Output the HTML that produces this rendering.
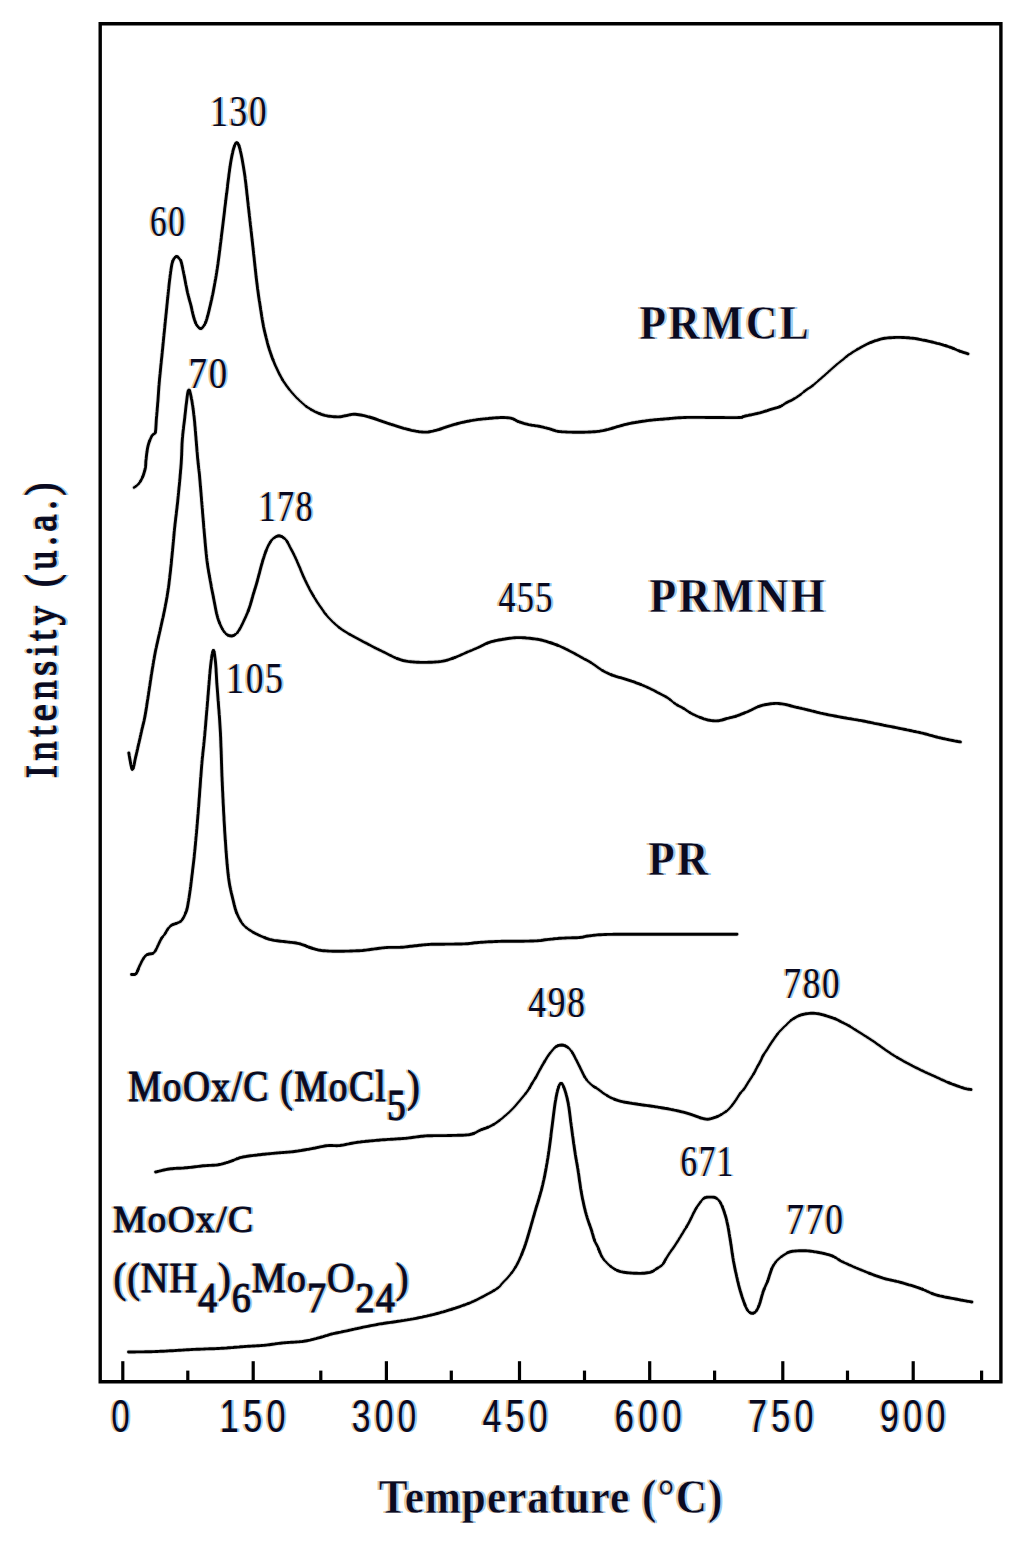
<!DOCTYPE html>
<html><head><meta charset="utf-8"><title>TPR chart</title>
<style>html,body{margin:0;padding:0;background:#fff;}svg{display:block;}</style></head>
<body><svg width="1024" height="1543" viewBox="0 0 1024 1543">
<path d="M100.2,23.8 H1000.9 V1381.8 H100.2 Z" fill="none" stroke="#000" stroke-width="3.4"/>
<line x1="122.8" y1="1361.2" x2="122.8" y2="1381.8" stroke="#000" stroke-width="3.2"/>
<line x1="253.2" y1="1361.2" x2="253.2" y2="1381.8" stroke="#000" stroke-width="3.2"/>
<line x1="386.4" y1="1361.2" x2="386.4" y2="1381.8" stroke="#000" stroke-width="3.2"/>
<line x1="519.5" y1="1361.2" x2="519.5" y2="1381.8" stroke="#000" stroke-width="3.2"/>
<line x1="649.7" y1="1361.2" x2="649.7" y2="1381.8" stroke="#000" stroke-width="3.2"/>
<line x1="782.8" y1="1361.2" x2="782.8" y2="1381.8" stroke="#000" stroke-width="3.2"/>
<line x1="913.2" y1="1361.2" x2="913.2" y2="1381.8" stroke="#000" stroke-width="3.2"/>
<line x1="187.8" y1="1370.6" x2="187.8" y2="1381.8" stroke="#000" stroke-width="3.2"/>
<line x1="320.8" y1="1370.6" x2="320.8" y2="1381.8" stroke="#000" stroke-width="3.2"/>
<line x1="451.3" y1="1370.6" x2="451.3" y2="1381.8" stroke="#000" stroke-width="3.2"/>
<line x1="584.5" y1="1370.6" x2="584.5" y2="1381.8" stroke="#000" stroke-width="3.2"/>
<line x1="714.6" y1="1370.6" x2="714.6" y2="1381.8" stroke="#000" stroke-width="3.2"/>
<line x1="847.5" y1="1370.6" x2="847.5" y2="1381.8" stroke="#000" stroke-width="3.2"/>
<line x1="981.6" y1="1370.6" x2="981.6" y2="1381.8" stroke="#000" stroke-width="3.2"/>
<path d="M134.0,487.5 C134.8,486.9 137.4,485.4 138.8,483.6 C140.2,481.9 141.5,479.6 142.6,477.0 C143.7,474.4 144.8,470.5 145.4,467.7 C146.0,464.9 145.6,463.7 146.0,460.0 C146.4,456.3 147.1,449.7 148.1,445.6 C149.1,441.6 150.8,437.9 152.0,435.7 C153.2,433.5 154.6,435.0 155.3,432.4 C156.0,429.8 155.9,425.4 156.3,420.0 C156.8,414.6 157.5,406.5 158.0,400.0 C158.5,393.5 158.7,389.2 159.4,380.8 C160.2,372.4 161.5,360.1 162.5,349.7 C163.5,339.3 164.5,329.0 165.6,318.6 C166.7,308.2 167.9,295.4 168.8,287.5 C169.7,279.6 170.1,275.4 170.8,271.0 C171.5,266.6 171.9,263.4 172.8,261.0 C173.8,258.6 175.3,256.8 176.5,256.5 C177.7,256.2 179.2,258.4 180.0,259.5 C180.8,260.6 180.8,260.1 181.5,263.0 C182.2,265.9 183.4,272.0 184.4,276.9 C185.4,281.8 186.5,287.9 187.5,292.5 C188.5,297.1 189.5,300.0 190.6,304.2 C191.7,308.4 192.8,314.0 193.8,317.5 C194.9,321.0 195.7,323.4 196.9,325.3 C198.1,327.2 199.6,328.7 200.8,328.6 C202.0,328.6 203.3,326.7 204.3,325.0 C205.3,323.3 205.9,322.0 207.0,318.3 C208.1,314.6 209.7,307.9 210.9,302.7 C212.1,297.5 213.1,292.6 214.1,287.0 C215.1,281.4 216.2,275.9 217.2,269.0 C218.2,262.1 218.9,257.1 220.3,245.6 C221.7,234.2 224.2,213.4 225.8,200.3 C227.4,187.2 228.7,175.7 230.0,167.1 C231.3,158.5 232.4,153.1 233.5,149.0 C234.6,144.9 235.5,142.9 236.6,142.8 C237.7,142.7 238.5,143.4 239.8,148.5 C241.1,153.6 243.0,163.4 244.5,173.4 C246.0,183.4 247.2,196.5 248.6,208.6 C250.0,220.7 251.4,233.6 252.8,246.0 C254.2,258.4 255.7,273.5 256.9,283.3 C258.1,293.1 258.9,298.1 260.0,305.0 C261.1,311.9 262.2,319.3 263.2,324.8 C264.2,330.3 265.2,333.9 266.2,338.0 C267.2,342.1 268.2,345.9 269.4,349.7 C270.6,353.5 272.1,357.5 273.5,361.0 C274.9,364.5 276.3,367.6 277.7,370.5 C279.1,373.4 280.4,376.1 281.8,378.5 C283.2,380.9 284.5,382.8 286.0,385.0 C287.5,387.2 289.3,389.4 291.0,391.5 C292.7,393.6 294.1,395.1 296.3,397.4 C298.6,399.6 302.0,402.9 304.5,405.0 C307.0,407.1 309.2,408.5 311.5,409.8 C313.8,411.1 315.8,412.1 318.0,413.0 C320.2,413.9 322.5,414.7 324.7,415.3 C326.9,415.9 328.7,416.1 331.0,416.4 C333.3,416.7 336.3,417.0 338.7,416.9 C341.1,416.8 342.6,416.2 345.1,415.8 C347.6,415.4 350.8,414.4 353.7,414.3 C356.6,414.2 359.4,414.8 362.3,415.3 C365.2,415.8 368.4,416.8 370.9,417.5 C373.4,418.2 374.8,418.7 377.3,419.6 C379.8,420.5 383.0,421.7 385.9,422.7 C388.8,423.7 391.3,424.4 394.5,425.4 C397.7,426.4 401.7,427.7 405.3,428.7 C408.9,429.7 412.4,430.6 416.0,431.2 C419.6,431.8 423.1,432.3 426.7,432.1 C430.3,431.9 433.9,430.9 437.5,429.9 C441.1,428.9 444.3,427.5 448.2,426.3 C452.1,425.1 456.8,423.7 461.1,422.7 C465.4,421.7 469.7,420.8 474.0,420.1 C478.3,419.4 482.2,419.0 486.9,418.6 C491.5,418.2 497.7,417.5 501.9,417.5 C506.1,417.5 509.3,417.8 512.0,418.5 C514.7,419.2 515.5,420.5 518.2,421.5 C521.0,422.5 525.1,423.8 528.5,424.6 C531.9,425.4 535.3,425.5 538.7,426.2 C542.1,426.9 545.6,427.8 549.0,428.7 C552.4,429.6 554.4,430.9 559.2,431.5 C564.0,432.1 571.6,432.2 577.7,432.2 C583.9,432.2 591.0,432.1 596.1,431.6 C601.2,431.1 604.6,430.2 608.4,429.3 C612.2,428.4 615.3,427.2 618.7,426.3 C622.1,425.4 625.2,424.4 629.0,423.6 C632.8,422.8 637.2,422.1 641.3,421.5 C645.4,420.9 649.5,420.3 653.6,419.9 C657.7,419.5 660.8,419.3 665.9,418.9 C671.0,418.5 676.1,417.7 684.3,417.5 C692.5,417.3 705.9,417.5 715.1,417.5 C724.3,417.5 734.5,417.7 739.4,417.5 C744.2,417.3 740.8,417.1 744.2,416.3 C747.6,415.5 755.5,413.9 759.8,412.8 C764.1,411.7 766.6,410.7 770.0,409.7 C773.4,408.7 777.3,407.8 780.0,406.6 C782.7,405.5 784.1,404.0 786.2,402.8 C788.3,401.6 790.5,400.8 792.7,399.6 C794.9,398.4 797.2,396.9 799.3,395.4 C801.4,393.9 803.3,392.1 805.5,390.5 C807.7,388.9 810.3,387.4 812.5,385.7 C814.7,384.0 816.7,382.2 818.7,380.4 C820.8,378.6 822.8,376.9 824.8,375.1 C826.8,373.3 829.0,371.3 831.0,369.5 C833.0,367.7 835.4,365.7 837.1,364.2 C838.9,362.7 839.7,362.1 841.5,360.7 C843.3,359.3 845.5,357.2 847.7,355.6 C849.9,354.0 852.5,352.4 854.7,351.0 C856.9,349.6 858.6,348.6 860.8,347.4 C863.0,346.2 865.7,344.7 867.9,343.7 C870.1,342.7 871.5,342.1 874.1,341.2 C876.7,340.3 879.5,339.1 883.4,338.5 C887.3,337.9 892.6,337.4 897.5,337.4 C902.4,337.3 908.6,337.8 912.7,338.2 C916.8,338.6 919.4,339.4 922.1,339.9 C924.8,340.4 925.8,340.5 929.1,341.3 C932.4,342.1 938.2,343.5 942.0,344.6 C945.8,345.7 949.1,346.8 952.0,347.9 C954.9,349.0 956.9,350.1 959.6,351.1 C962.3,352.1 966.6,353.4 968.0,353.8" fill="none" stroke="#e2e2e2" stroke-width="4.6" stroke-linejoin="round" stroke-linecap="round"/>
<path d="M128.8,752.9 C129.4,755.6 131.1,768.7 132.3,769.3 C133.5,769.9 134.6,761.1 135.8,756.4 C137.0,751.7 138.2,745.9 139.3,741.2 C140.4,736.5 141.2,732.7 142.2,728.4 C143.2,724.1 144.0,721.4 145.1,715.6 C146.2,709.8 147.5,700.6 148.6,693.4 C149.7,686.2 150.7,679.0 151.8,672.4 C152.9,665.8 153.9,659.5 155.0,653.7 C156.1,647.9 157.4,642.3 158.5,637.4 C159.6,632.5 160.3,629.4 161.4,624.5 C162.5,619.6 163.7,614.3 164.9,608.2 C166.1,602.1 167.3,596.0 168.4,588.0 C169.5,580.0 170.6,570.1 171.6,560.0 C172.6,549.9 173.6,537.7 174.7,527.4 C175.8,517.1 176.9,509.0 178.0,498.3 C179.1,487.6 180.5,473.0 181.2,463.3 C181.9,453.6 181.7,447.4 182.3,440.0 C182.9,432.6 183.6,427.2 184.6,419.0 C185.6,410.8 187.1,394.7 188.2,391.0 C189.3,387.3 190.1,392.2 191.1,396.9 C192.1,401.5 193.2,408.8 194.3,418.9 C195.4,429.0 196.7,447.8 197.6,457.8 C198.5,467.8 198.7,466.2 199.8,478.9 C200.9,491.6 203.2,520.4 204.4,534.2 C205.6,548.0 206.1,553.5 207.1,561.5 C208.1,569.5 209.4,575.6 210.5,582.0 C211.6,588.4 212.8,594.1 213.9,599.8 C215.0,605.5 216.1,611.6 217.3,616.2 C218.6,620.8 219.9,624.2 221.4,627.2 C222.9,630.2 224.5,632.5 226.2,634.0 C227.9,635.5 230.0,636.1 231.7,636.0 C233.4,635.9 235.1,634.8 236.5,633.5 C237.9,632.2 238.9,630.4 240.0,628.5 C241.1,626.6 241.8,625.2 243.3,622.0 C244.8,618.8 247.2,613.8 248.8,609.4 C250.4,605.0 251.5,600.3 252.9,595.7 C254.3,591.1 255.4,587.7 257.0,582.0 C258.6,576.3 261.0,566.7 262.5,561.5 C264.0,556.3 264.9,554.0 266.0,551.0 C267.1,548.0 268.2,545.8 269.3,543.8 C270.4,541.8 271.1,540.3 272.7,539.0 C274.3,537.7 276.7,535.7 278.9,535.8 C281.1,535.9 283.8,537.6 285.7,539.6 C287.6,541.6 288.9,545.0 290.5,548.0 C292.1,551.0 293.8,554.2 295.3,557.4 C296.8,560.6 298.1,563.8 299.5,567.0 C300.9,570.2 302.2,573.6 303.5,576.6 C304.8,579.6 306.1,582.3 307.5,585.0 C308.9,587.7 310.2,590.3 311.7,593.0 C313.2,595.7 314.9,598.5 316.5,601.0 C318.1,603.5 319.6,605.5 321.3,608.0 C323.1,610.5 324.3,612.8 327.0,615.8 C329.7,618.8 334.1,623.3 337.6,626.2 C341.1,629.1 344.3,631.1 348.1,633.4 C351.9,635.7 356.3,637.9 360.4,640.1 C364.5,642.3 368.6,644.5 372.7,646.6 C376.8,648.7 380.9,650.7 385.0,652.7 C389.1,654.7 393.5,657.2 397.3,658.6 C401.1,660.0 403.5,660.8 407.9,661.4 C412.3,662.0 418.1,662.4 423.7,662.4 C429.3,662.4 436.3,662.1 441.3,661.4 C446.3,660.7 449.5,659.5 453.6,658.0 C457.7,656.5 461.8,654.5 465.9,652.7 C470.0,651.0 474.4,649.2 478.2,647.5 C482.0,645.8 485.0,643.9 488.7,642.6 C492.4,641.3 495.6,640.5 500.5,639.7 C505.4,638.9 511.9,637.7 518.1,637.6 C524.3,637.5 532.2,638.5 537.5,639.3 C542.8,640.1 546.0,641.3 549.8,642.5 C553.6,643.7 556.8,644.9 560.3,646.4 C563.8,647.9 567.4,649.8 570.9,651.6 C574.4,653.4 577.9,655.3 581.4,657.3 C584.9,659.2 588.5,661.1 592.0,663.3 C595.5,665.5 599.0,668.5 602.5,670.5 C606.0,672.5 609.2,674.0 613.0,675.4 C616.8,676.8 621.2,677.8 625.3,679.1 C629.4,680.4 633.9,681.9 637.7,683.3 C641.5,684.7 644.7,686.1 648.2,687.7 C651.7,689.3 655.5,691.3 658.7,693.0 C661.9,694.7 664.7,696.0 667.5,697.8 C670.3,699.6 673.0,702.2 675.6,704.0 C678.2,705.8 680.8,706.7 683.4,708.3 C686.0,709.9 688.4,711.8 691.3,713.4 C694.2,715.0 697.8,716.5 700.6,717.6 C703.4,718.7 705.4,719.5 708.0,720.0 C710.6,720.5 714.0,720.9 716.3,720.9 C718.6,720.9 720.2,720.4 722.0,720.0 C723.8,719.6 725.0,719.0 727.2,718.4 C729.4,717.8 732.4,717.3 735.0,716.5 C737.6,715.7 740.4,714.5 742.8,713.6 C745.1,712.7 747.0,711.9 749.1,711.0 C751.2,710.1 753.5,708.8 755.3,708.0 C757.1,707.2 758.2,706.6 760.0,706.0 C761.8,705.4 763.7,704.9 766.3,704.5 C768.9,704.1 772.5,703.4 775.6,703.4 C778.7,703.4 781.9,703.8 785.0,704.4 C788.1,705.0 791.3,706.0 794.4,706.8 C797.5,707.5 800.9,708.2 803.8,708.9 C806.7,709.6 808.0,710.0 811.6,710.9 C815.2,711.8 820.4,713.1 825.6,714.2 C830.8,715.3 836.8,716.4 842.8,717.5 C848.8,718.6 855.6,719.6 861.6,720.7 C867.6,721.8 873.3,723.1 878.8,724.2 C884.3,725.3 889.2,726.2 894.4,727.3 C899.6,728.3 905.0,729.5 910.0,730.5 C915.0,731.5 919.7,732.5 924.1,733.6 C928.5,734.7 932.2,735.9 936.6,737.0 C941.0,738.1 946.6,739.3 950.6,740.1 C954.6,740.9 958.8,741.6 960.4,741.9" fill="none" stroke="#e2e2e2" stroke-width="4.6" stroke-linejoin="round" stroke-linecap="round"/>
<path d="M131.5,974.5 C132.2,974.4 134.8,975.0 136.0,973.8 C137.2,972.6 137.9,969.7 138.9,967.5 C139.9,965.3 141.1,962.6 142.2,960.6 C143.3,958.6 144.3,956.9 145.5,955.8 C146.7,954.7 148.0,954.4 149.2,954.0 C150.4,953.6 151.8,953.9 152.8,953.4 C153.8,952.9 154.5,952.1 155.4,950.7 C156.3,949.3 157.3,946.9 158.3,944.8 C159.3,942.7 160.5,940.0 161.6,938.2 C162.7,936.4 163.8,935.6 164.9,934.0 C166.0,932.4 167.0,930.0 168.2,928.5 C169.4,927.0 170.6,925.9 171.9,925.0 C173.2,924.1 174.8,924.0 176.3,923.4 C177.8,922.8 179.6,922.1 180.7,921.3 C181.8,920.5 182.3,919.5 183.0,918.4 C183.7,917.3 184.3,916.1 185.0,914.5 C185.7,912.9 186.4,911.1 187.0,909.0 C187.6,906.9 187.9,904.5 188.3,902.0 C188.7,899.5 189.1,897.3 189.6,894.0 C190.1,890.7 190.3,889.0 191.2,882.0 C192.0,875.0 193.5,863.4 194.7,851.7 C195.9,840.0 197.0,826.4 198.2,812.0 C199.4,797.6 200.7,777.6 201.7,765.4 C202.7,753.1 203.5,748.6 204.4,738.5 C205.3,728.4 206.3,716.9 207.3,704.8 C208.3,692.7 209.6,674.9 210.6,665.9 C211.6,656.9 212.5,651.1 213.3,650.5 C214.1,649.9 214.9,656.2 215.5,662.0 C216.1,667.8 216.2,673.9 217.0,685.4 C217.8,696.9 219.4,714.8 220.3,730.8 C221.2,746.8 221.4,764.3 222.2,781.7 C223.0,799.1 223.9,819.5 225.0,835.4 C226.1,851.3 227.1,866.5 228.5,877.4 C229.9,888.2 231.8,894.6 233.2,900.5 C234.6,906.4 235.1,908.9 236.7,912.9 C238.3,916.9 240.4,921.2 242.9,924.3 C245.4,927.4 248.4,929.2 251.6,931.3 C254.8,933.3 258.7,935.1 262.2,936.6 C265.7,938.1 268.6,939.2 272.7,940.1 C276.8,941.0 282.4,941.3 286.8,941.9 C291.2,942.5 295.0,942.6 299.1,943.6 C303.2,944.6 307.6,946.8 311.4,948.0 C315.2,949.2 317.3,950.1 322.0,950.6 C326.7,951.1 333.1,951.2 339.5,951.2 C345.9,951.2 354.7,951.0 360.6,950.6 C366.5,950.2 370.3,949.4 374.7,948.9 C379.1,948.4 382.6,947.8 387.0,947.5 C391.4,947.2 396.3,947.6 401.0,947.3 C405.7,947.0 410.2,946.3 415.0,945.8 C419.8,945.3 424.2,944.7 430.0,944.4 C435.8,944.1 444.0,944.2 450.0,944.1 C456.0,944.0 461.3,944.1 466.0,943.8 C470.7,943.5 473.0,942.9 478.4,942.5 C483.8,942.1 491.7,941.6 498.6,941.4 C505.5,941.2 513.5,941.3 520.0,941.2 C526.5,941.1 532.8,941.1 537.3,940.8 C541.8,940.5 543.0,940.0 547.0,939.6 C551.0,939.2 555.6,938.6 561.0,938.2 C566.4,937.9 575.0,937.9 579.5,937.5 C584.0,937.1 583.8,936.5 588.0,936.0 C592.2,935.5 596.3,934.8 605.0,934.5 C613.7,934.2 624.2,934.3 640.0,934.3 C655.8,934.3 683.8,934.3 700.0,934.3 C716.2,934.3 730.8,934.3 737.0,934.3" fill="none" stroke="#e2e2e2" stroke-width="4.6" stroke-linejoin="round" stroke-linecap="round"/>
<path d="M155.6,1172.0 C157.9,1171.5 164.1,1169.7 169.3,1169.0 C174.5,1168.3 181.0,1168.2 186.9,1167.7 C192.8,1167.2 199.3,1166.2 204.5,1165.7 C209.7,1165.2 213.9,1165.5 218.1,1164.8 C222.3,1164.1 225.9,1162.8 229.8,1161.6 C233.7,1160.3 237.0,1158.4 241.6,1157.3 C246.2,1156.2 251.3,1155.7 257.2,1155.0 C263.1,1154.3 270.5,1153.6 276.7,1153.0 C282.9,1152.4 288.4,1152.2 294.3,1151.5 C300.2,1150.8 306.4,1149.6 311.9,1148.6 C317.4,1147.6 322.8,1146.1 327.5,1145.6 C332.2,1145.1 335.0,1146.0 340.0,1145.5 C345.0,1145.0 350.4,1143.2 357.6,1142.3 C364.8,1141.3 375.2,1140.4 383.0,1139.8 C390.8,1139.2 397.4,1139.1 404.5,1138.4 C411.6,1137.8 418.4,1136.4 425.9,1135.9 C433.4,1135.4 442.1,1135.7 449.4,1135.5 C456.7,1135.3 464.7,1135.4 469.9,1134.5 C475.1,1133.6 476.9,1131.5 480.6,1130.0 C484.3,1128.5 488.7,1127.2 492.3,1125.2 C495.9,1123.2 498.8,1120.9 502.1,1118.3 C505.4,1115.7 509.0,1112.4 511.9,1109.5 C514.8,1106.6 517.1,1103.8 519.7,1100.7 C522.3,1097.6 525.5,1093.9 527.5,1091.0 C529.5,1088.1 530.6,1085.8 532.0,1083.5 C533.4,1081.2 534.7,1079.3 536.0,1077.0 C537.3,1074.7 538.7,1071.9 540.0,1069.5 C541.3,1067.1 542.7,1064.8 544.0,1062.5 C545.3,1060.2 546.6,1058.0 548.0,1056.0 C549.4,1054.0 550.8,1052.1 552.2,1050.5 C553.6,1048.9 554.7,1047.4 556.3,1046.5 C557.9,1045.6 560.0,1045.0 561.8,1045.0 C563.6,1045.0 565.4,1045.7 567.0,1046.8 C568.6,1047.9 570.3,1049.6 571.6,1051.4 C572.9,1053.2 573.9,1055.4 575.0,1057.5 C576.1,1059.6 577.2,1061.8 578.3,1064.0 C579.4,1066.2 580.4,1068.3 581.5,1070.5 C582.6,1072.7 583.6,1075.1 584.8,1077.0 C586.0,1078.9 587.1,1080.5 588.5,1082.0 C589.9,1083.5 591.6,1084.9 593.0,1086.0 C594.4,1087.1 595.2,1087.3 597.0,1088.5 C598.8,1089.7 601.4,1091.8 603.8,1093.4 C606.2,1095.0 608.8,1096.7 611.6,1098.0 C614.5,1099.3 617.8,1100.5 620.9,1101.3 C624.0,1102.1 626.4,1102.4 630.3,1103.1 C634.2,1103.8 640.2,1104.6 644.4,1105.2 C648.6,1105.8 650.9,1106.0 655.3,1106.7 C659.7,1107.4 666.2,1108.5 670.9,1109.4 C675.6,1110.3 679.5,1111.2 683.4,1112.2 C687.3,1113.2 691.5,1114.6 694.4,1115.6 C697.3,1116.6 698.8,1117.4 701.0,1118.0 C703.2,1118.6 705.3,1119.3 707.5,1119.2 C709.7,1119.1 712.4,1118.1 714.2,1117.6 C716.0,1117.1 717.1,1116.6 718.5,1116.0 C719.9,1115.4 720.8,1115.0 722.5,1113.8 C724.2,1112.6 726.7,1111.2 728.8,1109.1 C730.9,1107.0 733.1,1103.9 735.0,1101.3 C736.9,1098.7 738.8,1095.2 740.3,1093.2 C741.8,1091.2 742.6,1090.9 743.8,1089.3 C745.0,1087.7 746.2,1085.5 747.3,1083.8 C748.4,1082.1 749.1,1080.9 750.2,1079.2 C751.3,1077.5 752.7,1075.5 753.8,1073.6 C754.9,1071.7 755.6,1070.0 756.7,1068.0 C757.8,1066.0 759.1,1063.7 760.2,1061.6 C761.3,1059.5 762.0,1057.5 763.1,1055.6 C764.2,1053.7 765.4,1052.1 766.6,1050.3 C767.8,1048.5 769.0,1046.3 770.2,1044.5 C771.4,1042.7 772.6,1040.8 773.7,1039.3 C774.8,1037.8 775.6,1036.5 776.6,1035.2 C777.6,1033.9 778.4,1032.8 779.5,1031.6 C780.6,1030.4 781.8,1029.2 783.0,1028.0 C784.2,1026.8 785.5,1025.6 786.6,1024.6 C787.7,1023.5 788.4,1022.7 789.5,1021.7 C790.6,1020.8 791.3,1019.9 793.0,1018.9 C794.7,1017.9 797.3,1016.4 799.5,1015.5 C801.7,1014.6 803.9,1014.2 806.0,1013.8 C808.1,1013.4 810.2,1013.3 812.3,1013.3 C814.4,1013.3 816.4,1013.4 818.5,1013.8 C820.6,1014.2 822.4,1014.7 825.2,1015.5 C828.0,1016.3 832.7,1017.8 835.2,1018.8 C837.8,1019.8 838.4,1020.4 840.5,1021.5 C842.6,1022.6 845.2,1023.7 848.1,1025.3 C851.0,1026.9 855.0,1029.5 857.6,1031.2 C860.2,1032.9 861.2,1033.4 864.0,1035.2 C866.8,1037.0 870.3,1039.2 874.1,1041.8 C877.9,1044.4 883.0,1048.2 886.8,1050.8 C890.6,1053.4 893.2,1055.0 897.0,1057.3 C900.8,1059.6 905.5,1062.2 909.7,1064.4 C913.9,1066.7 918.0,1068.7 922.4,1070.8 C926.8,1072.9 931.9,1075.1 936.3,1077.1 C940.7,1079.1 944.3,1080.9 949.0,1082.8 C953.7,1084.7 960.6,1087.2 964.3,1088.3 C968.0,1089.4 969.9,1089.3 971.0,1089.5" fill="none" stroke="#e2e2e2" stroke-width="4.6" stroke-linejoin="round" stroke-linecap="round"/>
<path d="M128.5,1352.0 C131.6,1352.0 140.6,1352.0 147.0,1351.8 C153.4,1351.6 159.5,1351.4 167.0,1351.0 C174.5,1350.6 182.9,1350.0 192.0,1349.5 C201.1,1349.0 212.8,1348.8 221.6,1348.3 C230.4,1347.8 237.8,1347.0 245.0,1346.5 C252.2,1346.0 258.3,1345.9 264.5,1345.3 C270.7,1344.7 275.5,1343.7 282.0,1343.0 C288.5,1342.3 297.3,1342.2 303.6,1341.3 C309.9,1340.4 315.3,1338.7 320.0,1337.5 C324.7,1336.3 327.5,1335.1 331.7,1334.0 C335.9,1332.9 340.8,1332.1 345.4,1331.1 C350.0,1330.1 353.6,1329.2 359.1,1328.1 C364.6,1326.9 372.1,1325.3 378.6,1324.2 C385.1,1323.1 391.6,1322.3 398.1,1321.3 C404.6,1320.3 411.2,1319.3 417.7,1318.0 C424.2,1316.7 430.7,1315.2 437.2,1313.5 C443.7,1311.8 450.8,1309.5 456.7,1307.6 C462.6,1305.6 467.4,1303.9 472.3,1301.8 C477.2,1299.7 481.8,1297.2 486.0,1294.9 C490.2,1292.6 494.9,1290.2 497.7,1288.1 C500.5,1286.0 501.3,1284.3 503.0,1282.5 C504.7,1280.7 506.0,1279.6 507.8,1277.5 C509.6,1275.4 511.8,1272.8 513.7,1270.0 C515.6,1267.2 517.5,1263.7 519.0,1260.5 C520.5,1257.3 521.8,1254.2 523.0,1251.0 C524.2,1247.8 525.4,1244.3 526.5,1241.0 C527.6,1237.7 528.5,1234.4 529.5,1231.0 C530.5,1227.6 531.5,1224.0 532.5,1220.5 C533.5,1217.0 534.4,1213.7 535.5,1210.0 C536.6,1206.3 537.9,1202.5 539.0,1198.5 C540.1,1194.5 541.3,1190.5 542.4,1186.0 C543.5,1181.5 544.4,1177.3 545.5,1171.5 C546.6,1165.7 547.8,1158.7 548.9,1151.0 C550.0,1143.3 551.1,1133.8 552.2,1125.5 C553.3,1117.2 554.3,1107.7 555.4,1101.3 C556.5,1094.9 557.6,1090.0 558.6,1087.0 C559.6,1084.0 560.5,1082.8 561.6,1083.4 C562.7,1084.1 564.0,1087.4 565.1,1090.9 C566.2,1094.4 567.4,1098.8 568.4,1104.5 C569.4,1110.2 570.1,1117.4 571.2,1125.2 C572.3,1133.0 573.6,1143.5 574.8,1151.1 C575.9,1158.7 577.0,1164.0 578.1,1170.8 C579.2,1177.5 580.1,1185.4 581.2,1191.6 C582.3,1197.8 583.5,1203.5 584.6,1208.2 C585.7,1212.9 586.7,1216.0 587.8,1219.6 C588.9,1223.2 590.3,1226.5 591.4,1230.0 C592.5,1233.5 593.5,1237.5 594.5,1240.3 C595.5,1243.1 596.0,1243.4 597.6,1246.6 C599.2,1249.8 600.6,1255.6 603.9,1259.6 C607.2,1263.6 612.1,1268.3 617.6,1270.6 C623.1,1272.9 631.3,1273.0 636.7,1273.3 C642.1,1273.6 646.8,1273.0 650.0,1272.3 C653.2,1271.6 654.2,1270.2 656.2,1268.9 C658.2,1267.7 660.7,1266.4 662.3,1264.8 C663.9,1263.2 664.6,1261.1 665.7,1259.3 C666.8,1257.5 667.5,1256.2 669.1,1253.8 C670.7,1251.4 673.1,1248.2 675.3,1244.9 C677.5,1241.6 679.8,1237.8 682.1,1234.0 C684.4,1230.2 686.8,1226.4 689.0,1222.4 C691.2,1218.4 693.2,1213.5 695.1,1210.1 C697.0,1206.7 699.0,1204.0 700.6,1201.9 C702.2,1199.9 703.1,1198.6 704.7,1197.8 C706.3,1197.0 708.4,1197.1 710.2,1197.1 C712.0,1197.1 713.9,1196.9 715.6,1197.8 C717.3,1198.7 718.9,1200.1 720.4,1202.6 C721.9,1205.1 723.3,1209.0 724.5,1212.8 C725.7,1216.5 726.7,1220.1 727.7,1225.1 C728.7,1230.1 729.8,1237.0 730.7,1242.9 C731.7,1248.8 732.4,1255.0 733.4,1260.7 C734.4,1266.4 735.7,1272.1 736.8,1277.1 C737.9,1282.1 739.0,1286.4 740.2,1290.7 C741.5,1295.0 743.0,1299.8 744.3,1303.1 C745.6,1306.4 746.5,1308.9 747.8,1310.6 C749.1,1312.3 750.5,1313.2 751.9,1313.3 C753.3,1313.4 754.8,1312.8 756.0,1311.3 C757.2,1309.8 758.1,1307.8 759.4,1304.4 C760.6,1301.0 762.1,1294.6 763.5,1290.7 C764.9,1286.8 766.2,1284.8 767.6,1281.2 C769.0,1277.6 770.3,1272.1 771.7,1268.9 C773.1,1265.7 774.4,1263.8 775.8,1262.0 C777.2,1260.2 778.4,1259.2 779.9,1257.9 C781.4,1256.7 782.8,1255.6 784.7,1254.5 C786.6,1253.4 787.8,1252.1 791.3,1251.5 C794.8,1250.9 801.0,1250.6 805.9,1250.8 C810.8,1251.0 816.1,1251.9 820.6,1252.8 C825.1,1253.7 829.1,1254.7 832.8,1256.2 C836.4,1257.7 837.6,1259.5 842.5,1261.8 C847.4,1264.1 855.5,1267.6 862.0,1270.3 C868.5,1273.0 875.1,1275.7 881.6,1277.7 C888.1,1279.7 894.6,1280.7 901.1,1282.5 C907.6,1284.3 915.0,1286.6 920.7,1288.6 C926.4,1290.6 930.0,1293.1 935.3,1294.7 C940.6,1296.3 946.3,1297.2 952.4,1298.4 C958.5,1299.6 968.6,1301.4 971.9,1302.0" fill="none" stroke="#e2e2e2" stroke-width="4.6" stroke-linejoin="round" stroke-linecap="round"/>
<path d="M142.6,477.0 L143.2,475.6 L143.7,474.0 L144.2,472.4 L144.7,470.8 L145.1,469.2 L145.4,467.7 L145.6,466.2 L145.7,464.8 L145.8,463.5 L145.8,461.9 L146.0,460.0 L146.2,458.7 L146.3,457.2 L146.5,455.5 L146.7,453.8 L147.0,452.1 L147.2,450.3 L147.5,448.6 L147.8,447.0 L148.1,445.6 L148.6,443.9 L149.1,442.3 L149.7,440.7 M155.3,432.4 L155.5,431.3 L155.7,430.1 L155.8,428.8 L155.9,427.2 L156.0,425.6 L156.1,423.8 L156.2,422.0 L156.3,420.0 L156.4,418.7 L156.5,417.3 L156.7,415.9 L156.8,414.4 L156.9,412.8 L157.1,411.2 L157.2,409.6 L157.3,408.0 L157.5,406.3 L157.6,404.7 L157.7,403.1 L157.9,401.5 L158.0,400.0 L158.1,398.4 L158.2,396.9 L158.3,395.4 L158.4,394.0 L158.5,392.5 L158.6,391.1 L158.7,389.6 L158.8,388.1 L158.9,386.4 L159.1,384.7 L159.2,382.8 L159.4,380.8 L159.5,379.5 L159.6,378.2 L159.8,376.8 L159.9,375.3 L160.1,373.9 L160.2,372.3 L160.4,370.8 L160.5,369.2 L160.7,367.6 L160.8,366.0 L161.0,364.4 L161.2,362.7 L161.3,361.1 L161.5,359.4 L161.7,357.8 L161.9,356.1 L162.0,354.5 L162.2,352.9 L162.3,351.3 L162.5,349.7 L162.7,348.1 L162.8,346.6 L163.0,345.0 L163.1,343.5 L163.3,341.9 L163.4,340.4 L163.6,338.8 L163.7,337.3 L163.9,335.7 L164.0,334.2 L164.2,332.6 L164.4,331.0 L164.5,329.5 L164.7,327.9 L164.8,326.4 L165.0,324.8 L165.1,323.3 L165.3,321.7 L165.4,320.2 L165.6,318.6 L165.8,317.0 L165.9,315.4 L166.1,313.8 L166.3,312.1 L166.4,310.5 L166.6,308.8 L166.8,307.1 L166.9,305.5 L167.1,303.8 L167.3,302.1 L167.4,300.5 L167.6,298.9 L167.8,297.3 L167.9,295.8 L168.1,294.2 L168.2,292.8 L168.4,291.4 L168.5,290.0 L168.7,288.7 L168.8,287.5 L169.0,285.4 L169.2,283.5 L169.4,281.8 L169.6,280.2 L169.8,278.6 L170.0,277.2 L170.1,275.9 L170.3,274.6 L170.5,273.4 L170.6,272.2 L170.8,271.0 L171.1,268.9 L171.4,267.0 L171.7,265.2 L172.0,263.7 L172.4,262.3 L172.8,261.0 M176.5,256.5 L177.8,256.9 M180.8,260.6 L181.5,263.0 L181.8,264.1 L182.0,265.4 L182.4,266.8 L182.7,268.4 L183.0,270.0 L183.4,271.8 L183.7,273.5 L184.1,275.2 L184.4,276.9 L184.7,278.4 L185.0,280.0 L185.3,281.6 L185.6,283.2 L185.9,284.8 L186.3,286.5 L186.6,288.1 L186.9,289.6 L187.2,291.1 L187.5,292.5 L187.9,294.1 L188.3,295.7 L188.7,297.1 L189.0,298.5 L189.4,299.9 L189.8,301.3 L190.2,302.7 L190.6,304.2 L191.0,305.6 L191.3,307.2 L191.7,308.7 L192.0,310.3 L192.4,311.9 L192.7,313.4 L193.1,314.9 L193.4,316.3 L193.8,317.5 L194.4,319.5 L195.0,321.2 L195.6,322.8 M199.5,328.2 L200.8,328.6 M205.6,322.4 L206.3,320.7 L207.0,318.3 L207.3,317.1 L207.7,315.8 L208.1,314.3 L208.5,312.7 L208.9,311.1 L209.3,309.4 L209.7,307.7 L210.1,306.0 L210.5,304.3 L210.9,302.7 L211.2,301.1 L211.6,299.6 L211.9,298.1 L212.2,296.5 L212.6,295.0 L212.9,293.5 L213.2,291.9 L213.5,290.3 L213.8,288.7 L214.1,287.0 L214.4,285.6 L214.6,284.2 L214.9,282.8 L215.1,281.4 L215.4,279.9 L215.7,278.5 L215.9,277.0 L216.2,275.5 L216.4,273.9 L216.7,272.3 L216.9,270.7 L217.2,269.0 L217.4,267.6 L217.6,266.3 L217.8,265.0 L218.0,263.7 L218.1,262.4 L218.3,261.1 L218.5,259.7 L218.7,258.3 L218.9,256.8 L219.1,255.2 L219.3,253.6 L219.5,251.8 L219.8,249.9 L220.0,247.8 L220.3,245.6 L220.4,244.4 L220.6,243.2 L220.8,241.9 L220.9,240.6 L221.1,239.2 L221.3,237.7 L221.4,236.3 L221.6,234.8 L221.8,233.2 L222.0,231.7 L222.2,230.1 L222.4,228.5 L222.6,226.8 L222.8,225.2 L223.0,223.6 L223.2,221.9 L223.4,220.3 L223.6,218.6 L223.8,217.0 L224.0,215.3 L224.2,213.7 L224.4,212.1 L224.6,210.5 L224.7,208.9 L224.9,207.4 L225.1,205.9 L225.3,204.4 L225.5,203.0 L225.6,201.6 L225.8,200.3 L226.0,198.5 L226.2,196.8 L226.4,195.0 L226.7,193.3 L226.9,191.6 L227.1,190.0 L227.3,188.3 L227.5,186.7 L227.6,185.1 L227.8,183.5 L228.0,182.0 L228.2,180.5 L228.4,179.0 L228.6,177.6 L228.8,176.1 L228.9,174.7 L229.1,173.4 L229.3,172.1 L229.5,170.8 L229.6,169.5 L229.8,168.3 L230.0,167.1 L230.3,165.0 L230.6,163.1 L230.9,161.2 L231.2,159.5 L231.5,157.9 L231.8,156.4 L232.1,154.9 L232.4,153.6 L232.7,152.3 L232.9,151.2 L233.2,150.0 L233.5,149.0 L234.3,146.3 M236.6,142.8 L237.4,142.9 M238.9,145.4 L239.8,148.5 L240.1,149.5 L240.3,150.6 L240.6,151.8 L240.9,153.1 L241.2,154.5 L241.5,156.0 L241.8,157.5 L242.1,159.1 L242.4,160.8 L242.7,162.5 L243.0,164.2 L243.3,166.0 L243.6,167.8 L243.9,169.7 L244.2,171.5 L244.5,173.4 L244.7,174.7 L244.9,176.1 L245.1,177.5 L245.2,178.9 L245.4,180.3 L245.6,181.8 L245.8,183.3 L246.0,184.8 L246.1,186.3 L246.3,187.9 L246.5,189.4 L246.7,191.0 L246.8,192.6 L247.0,194.2 L247.2,195.8 L247.4,197.4 L247.5,199.0 L247.7,200.6 L247.9,202.2 L248.1,203.8 L248.2,205.4 L248.4,207.0 L248.6,208.6 L248.8,210.1 L248.9,211.5 L249.1,213.0 L249.3,214.5 L249.4,215.9 L249.6,217.4 L249.8,218.9 L249.9,220.4 L250.1,221.9 L250.3,223.4 L250.4,224.9 L250.6,226.4 L250.8,227.9 L251.0,229.4 L251.1,230.9 L251.3,232.5 L251.5,234.0 L251.6,235.5 L251.8,237.0 L252.0,238.5 L252.1,240.0 L252.3,241.5 L252.5,243.0 L252.6,244.5 L252.8,246.0 L253.0,247.5 L253.1,249.0 L253.3,250.6 L253.5,252.1 L253.6,253.7 L253.8,255.3 L254.0,256.9 L254.2,258.5 L254.3,260.1 L254.5,261.7 L254.7,263.3 L254.8,264.8 L255.0,266.4 L255.2,268.0 L255.3,269.5 L255.5,271.0 L255.7,272.5 L255.8,274.0 L256.0,275.4 L256.1,276.8 L256.3,278.2 L256.5,279.5 L256.6,280.8 L256.8,282.1 L256.9,283.3 L257.2,285.3 L257.4,287.2 L257.6,289.0 L257.9,290.7 L258.1,292.3 L258.3,293.8 L258.5,295.2 L258.7,296.7 L258.9,298.0 L259.1,299.4 L259.3,300.8 L259.6,302.1 L259.8,303.5 L260.0,305.0 L260.2,306.6 L260.5,308.2 L260.7,309.8 L261.0,311.4 L261.2,313.1 L261.5,314.6 L261.7,316.2 L262.0,317.8 L262.2,319.3 L262.5,320.7 L262.7,322.1 L263.0,323.5 L263.2,324.8 L263.5,326.6 L263.9,328.2 L264.2,329.7 L264.5,331.2 L264.9,332.6 L265.2,334.0 L265.5,335.3 L265.9,336.6 L266.2,338.0 L266.6,339.5 L267.0,341.0 L267.3,342.5 L267.7,344.0 L268.1,345.4 L268.5,346.8 L269.0,348.3 L269.4,349.7 L269.9,351.1 L270.4,352.6 L270.9,354.0 L271.4,355.5 L271.9,356.9 L272.4,358.3 L273.0,359.7 M319.7,413.7 L321.4,414.3 L323.0,414.8 L324.7,415.3 L326.3,415.7 L327.8,416.0 L329.3,416.2 L331.0,416.4 L332.5,416.6 L334.0,416.7 L335.6,416.8 L337.2,416.9 L338.7,416.9 L340.3,416.7 L341.8,416.5 L343.4,416.1 L345.1,415.8 L346.7,415.5 L348.4,415.1 L350.2,414.7 L351.9,414.4 L353.7,414.3 L355.4,414.3 L357.1,414.5 L358.9,414.7 L360.6,415.0 L362.3,415.3 L364.1,415.7 L365.8,416.1 L367.6,416.6 L369.3,417.0 L370.9,417.5 L372.6,418.0 L374.1,418.5 L375.6,419.0 L377.3,419.6 L378.6,420.1 L380.0,420.6 L381.5,421.1 L383.0,421.7 L384.4,422.2 L385.9,422.7 L387.3,423.2 L388.7,423.6 L390.1,424.0 L391.5,424.5 L392.9,424.9 L394.5,425.4 L395.9,425.8 L397.4,426.3 L399.0,426.8 L400.6,427.3 L402.2,427.8 L403.7,428.3 L405.3,428.7 L406.8,429.1 L408.4,429.5 L409.9,429.9 L411.4,430.3 L412.9,430.6 L414.5,430.9 L416.0,431.2 L417.5,431.4 L419.1,431.7 L420.6,431.9 L422.1,432.0 L423.6,432.1 L425.2,432.1 L426.7,432.1 L428.2,432.0 L429.8,431.7 L431.3,431.4 L432.9,431.1 L434.4,430.7 L436.0,430.3 L437.5,429.9 L439.0,429.5 L440.5,429.0 L442.0,428.5 L443.5,427.9 L445.0,427.4 L446.6,426.8 L448.2,426.3 L449.7,425.8 L451.3,425.4 L452.9,424.9 L454.5,424.4 L456.2,424.0 L457.8,423.5 L459.5,423.1 L461.1,422.7 L462.7,422.3 L464.3,422.0 L465.9,421.6 L467.6,421.3 L469.2,421.0 L470.8,420.6 L472.4,420.4 L474.0,420.1 L475.6,419.9 L477.2,419.6 L478.7,419.4 L480.3,419.3 L481.9,419.1 L483.5,418.9 L485.2,418.8 L486.9,418.6 L488.3,418.5 L489.8,418.3 L491.4,418.2 L493.0,418.0 L494.6,417.9 L496.2,417.8 L497.7,417.7 L499.2,417.6 L500.6,417.5 L501.9,417.5 L503.9,417.5 L505.8,417.6 L507.5,417.7 L509.1,417.9 L510.6,418.2 L512.0,418.5 L513.7,419.1 M518.2,421.5 L519.5,422.0 L520.8,422.4 L522.3,422.9 L523.9,423.4 L525.4,423.8 L527.0,424.2 L528.5,424.6 L530.2,424.9 L531.9,425.2 L533.6,425.4 L535.3,425.7 L537.0,425.9 L538.7,426.2 L540.2,426.5 L541.6,426.8 L543.1,427.2 L544.6,427.6 L546.1,427.9 L547.5,428.3 L549.0,428.7 L550.4,429.1 L551.7,429.5 L552.9,430.0 L554.3,430.4 L555.7,430.8 L557.3,431.2 L559.2,431.5 L560.5,431.6 L561.8,431.8 L563.2,431.9 L564.8,431.9 L566.3,432.0 L567.9,432.1 L569.6,432.1 L571.2,432.1 L572.9,432.2 L574.5,432.2 L576.1,432.2 L577.7,432.2 L579.3,432.2 L580.8,432.2 L582.5,432.2 L584.1,432.2 L585.7,432.1 L587.3,432.1 L588.9,432.0 L590.4,432.0 L591.9,431.9 L593.4,431.8 L594.8,431.7 L596.1,431.6 L597.9,431.4 L599.7,431.2 L601.2,430.9 L602.8,430.6 L604.2,430.3 L605.6,430.0 L607.0,429.6 L608.4,429.3 L610.0,428.9 L611.5,428.5 L613.0,428.0 L614.4,427.6 L615.8,427.2 L617.2,426.7 L618.7,426.3 L620.2,425.9 L621.6,425.5 L623.0,425.1 L624.4,424.7 L625.9,424.3 L627.4,424.0 L629.0,423.6 L630.4,423.3 L631.9,423.0 L633.5,422.7 L635.0,422.5 L636.6,422.2 L638.2,422.0 L639.7,421.7 L641.3,421.5 L642.8,421.3 L644.4,421.1 L645.9,420.8 L647.5,420.6 L649.0,420.4 L650.5,420.2 L652.1,420.1 L653.6,419.9 L655.1,419.7 L656.5,419.6 L657.9,419.5 L659.4,419.4 L660.8,419.3 L662.4,419.2 L664.1,419.0 L665.9,418.9 L667.2,418.8 L668.5,418.7 L669.8,418.5 L671.1,418.4 L672.5,418.3 L673.9,418.1 L675.4,418.0 L677.0,417.9 L678.7,417.8 L680.4,417.7 L682.3,417.6 L684.3,417.5 L685.6,417.5 L686.9,417.4 L688.3,417.4 L689.8,417.4 L691.3,417.4 L692.8,417.4 L694.4,417.4 L696.0,417.4 L697.7,417.4 L699.3,417.4 L701.0,417.4 L702.7,417.4 L704.3,417.4 L705.9,417.5 L707.6,417.5 L709.2,417.5 L710.7,417.5 L712.2,417.5 L713.7,417.5 L715.1,417.5 L716.8,417.5 L718.6,417.5 L720.3,417.5 L722.1,417.5 L723.8,417.5 L725.5,417.6 L727.2,417.6 L728.9,417.6 L730.5,417.6 L732.0,417.6 L733.5,417.6 L734.8,417.6 L736.1,417.6 L737.3,417.6 L738.4,417.5 L739.4,417.5 L742.0,417.3 M742.5,416.9 L744.2,416.3 L745.3,416.0 L746.7,415.7 L748.3,415.4 L749.9,415.0 L751.7,414.7 L753.4,414.3 L755.2,413.9 L756.9,413.5 L758.4,413.1 L759.8,412.8 L761.5,412.3 L763.1,411.9 L764.6,411.4 L765.9,411.0 L767.3,410.6 L768.6,410.1 L770.0,409.7 L771.7,409.2 L773.5,408.7 L775.2,408.2 L777.0,407.7 L778.6,407.2 L780.0,406.6 M870.9,342.4 L872.4,341.8 L874.1,341.2 L875.4,340.7 L876.8,340.3 L878.3,339.8 L879.8,339.3 L881.5,338.9 L883.4,338.5 L884.7,338.3 L886.2,338.1 L887.7,337.9 L889.3,337.8 L890.9,337.7 L892.5,337.6 L894.2,337.5 L895.9,337.4 L897.5,337.4 L899.0,337.4 L900.6,337.4 L902.2,337.5 L903.8,337.5 L905.4,337.6 L907.0,337.7 L908.5,337.8 L910.0,338.0 L911.4,338.1 L912.7,338.2 L914.6,338.4 L916.4,338.7 L917.9,339.0 L919.4,339.3 L920.7,339.6 L922.1,339.9 L923.9,340.2 L925.4,340.5 L927.0,340.8 L929.1,341.3 L930.4,341.6 L932.0,342.0 L933.6,342.4 L935.4,342.8 L937.1,343.3 L938.8,343.7 L940.5,344.2 L942.0,344.6 L943.6,345.1 L945.1,345.5 L946.6,346.0 L948.0,346.5 L949.4,347.0 L950.7,347.4 L952.0,347.9 L953.7,348.6 M959.6,351.1 L961.4,351.7 L963.3,352.3 L965.2,352.9 L966.8,353.4 L968.0,353.8" fill="none" stroke="#000" stroke-width="2.90" stroke-linejoin="round" stroke-linecap="round"/>
<path d="M140.4,481.3 L141.2,480.0 L141.9,478.5 L142.6,477.0 M149.7,440.7 L150.3,439.2 L150.9,437.9 L151.5,436.7 L152.0,435.7 M153.2,434.4 L154.4,433.9 L155.3,432.4 M172.8,261.0 L173.9,258.8 M175.2,257.2 L176.5,256.5 M195.6,322.8 L196.2,324.1 L196.9,325.3 M200.8,328.6 L202.0,328.0 M204.3,325.0 L205.0,323.8 L205.6,322.4 M234.3,146.3 L235.1,144.4 M235.8,143.2 L236.6,142.8 M238.1,143.7 L238.9,145.4 M273.0,359.7 L273.5,361.0 L274.2,362.7 L274.9,364.4 L275.6,366.0 L276.3,367.5 L277.0,369.0 L277.7,370.5 L278.5,372.2 L279.3,373.9 L280.2,375.5 L281.0,377.0 L281.8,378.5 L282.6,379.9 M311.5,409.8 L313.2,410.7 L314.8,411.6 L316.4,412.3 L318.0,413.0 L319.7,413.7 M513.7,419.1 L515.1,419.9 M516.5,420.7 L518.2,421.5 M780.0,406.6 L781.8,405.7 M786.2,402.8 L787.8,402.0 L789.4,401.2 L791.1,400.5 L792.7,399.6 L794.0,398.8 M857.7,349.1 L859.2,348.3 L860.8,347.4 L862.2,346.6 L863.6,345.9 L865.1,345.1 L866.5,344.4 L867.9,343.7 L869.4,343.0 L870.9,342.4 M953.7,348.6 L955.2,349.2 L956.6,349.9 L958.1,350.5 L959.6,351.1" fill="none" stroke="#000" stroke-width="2.61" stroke-linejoin="round" stroke-linecap="round"/>
<path d="M134.0,487.5 L134.9,486.9 L136.2,486.0 M138.8,483.6 L139.6,482.5 L140.4,481.3 M179.0,258.2 L180.0,259.5 L180.8,260.6 M196.9,325.3 L198.2,327.0 M203.2,326.7 L204.3,325.0 M235.1,144.4 L235.8,143.2 M282.6,379.9 L283.4,381.2 L284.3,382.5 L285.1,383.7 L286.0,385.0 L286.9,386.3 L287.9,387.6 L288.9,388.9 M306.0,406.2 L307.4,407.2 L308.8,408.1 L310.2,409.0 L311.5,409.8 M515.1,419.9 L516.5,420.7 M742.0,417.3 L742.5,416.9 M781.8,405.7 L783.3,404.7 L784.7,403.7 L786.2,402.8 M794.0,398.8 L795.4,398.0 L796.7,397.2 L798.0,396.3 L799.3,395.4 L800.6,394.5 M804.2,391.5 L805.5,390.5 L806.9,389.5 L808.3,388.6 L809.7,387.7 L811.1,386.7 L812.5,385.7 M846.4,356.6 L847.7,355.6 L849.1,354.6 L850.5,353.7 L851.9,352.7 L853.3,351.8 L854.7,351.0 L856.3,350.0 L857.7,349.1" fill="none" stroke="#000" stroke-width="2.41" stroke-linejoin="round" stroke-linecap="round"/>
<path d="M136.2,486.0 L137.6,484.9 L138.8,483.6 M152.0,435.7 L153.2,434.4 M173.9,258.8 L175.2,257.2 M177.8,256.9 L179.0,258.2 M198.2,327.0 L199.5,328.2 M202.0,328.0 L203.2,326.7 M237.4,142.9 L238.1,143.7 M288.9,388.9 L290.0,390.2 L291.0,391.5 L292.0,392.7 L293.0,393.8 L294.0,394.9 L295.0,396.1 L296.3,397.4 L297.3,398.4 L298.5,399.5 L299.7,400.7 L300.9,401.8 L302.2,403.0 L303.4,404.0 L304.5,405.0 L306.0,406.2 M800.6,394.5 L801.8,393.5 L803.0,392.5 L804.2,391.5 M812.5,385.7 L813.8,384.7 L815.0,383.6 L816.3,382.5 L817.5,381.5 L818.7,380.4 L819.9,379.3 L821.1,378.3 L822.4,377.2 L823.6,376.2 L824.8,375.1 L826.0,374.0 L827.3,372.9 L828.5,371.7 L829.8,370.6 L831.0,369.5 L832.3,368.4 L833.5,367.3 L834.8,366.2 L836.0,365.1 L837.1,364.2 L838.6,363.0 L840.0,361.9 L841.5,360.7 L842.6,359.8 L843.8,358.8 L845.1,357.7 L846.4,356.6" fill="none" stroke="#000" stroke-width="2.17" stroke-linejoin="round" stroke-linecap="round"/>
<path d="M128.8,752.9 L129.0,753.9 L129.2,755.3 L129.5,757.0 L129.8,758.9 L130.2,760.9 L130.5,762.9 L130.9,764.8 L131.3,766.5 L131.6,767.9 L132.0,768.8 M133.2,768.2 L133.6,766.7 L134.1,764.8 L134.5,762.7 L134.9,760.5 L135.4,758.3 L135.8,756.4 L136.2,755.0 L136.5,753.5 L136.9,751.9 L137.2,750.4 L137.6,748.8 L137.9,747.2 L138.3,745.7 L138.6,744.1 L139.0,742.6 L139.3,741.2 L139.7,739.5 L140.1,737.8 L140.4,736.2 L140.8,734.6 L141.1,733.1 L141.5,731.5 L141.8,730.0 L142.2,728.4 L142.6,726.9 L142.9,725.4 L143.3,724.0 L143.6,722.6 L144.0,721.1 L144.3,719.5 L144.7,717.6 L145.1,715.6 L145.3,714.3 L145.6,712.9 L145.8,711.4 L146.1,709.9 L146.3,708.3 L146.6,706.7 L146.8,705.0 L147.1,703.3 L147.3,701.6 L147.6,699.9 L147.9,698.2 L148.1,696.6 L148.4,695.0 L148.6,693.4 L148.8,691.9 L149.1,690.3 L149.3,688.8 L149.5,687.2 L149.8,685.7 L150.0,684.2 L150.2,682.7 L150.4,681.2 L150.7,679.7 L150.9,678.2 L151.1,676.7 L151.3,675.3 L151.6,673.8 L151.8,672.4 L152.1,670.8 L152.3,669.1 L152.6,667.5 L152.9,665.9 L153.1,664.3 L153.4,662.8 L153.6,661.2 L153.9,659.7 L154.2,658.2 L154.4,656.7 L154.7,655.2 L155.0,653.7 L155.3,652.1 L155.6,650.5 L155.9,649.0 L156.3,647.5 L156.6,645.9 L156.9,644.4 L157.3,643.0 L157.6,641.5 L157.9,640.1 L158.2,638.7 L158.5,637.4 L158.9,635.6 L159.3,634.0 L159.6,632.5 L160.0,631.0 L160.3,629.4 L160.6,627.9 L161.0,626.3 L161.4,624.5 L161.7,623.2 L162.0,621.8 L162.3,620.4 L162.6,619.0 L163.0,617.5 L163.3,616.1 L163.6,614.6 L163.9,613.0 L164.3,611.4 L164.6,609.8 L164.9,608.2 L165.2,606.8 L165.4,605.4 L165.7,604.0 L166.0,602.5 L166.3,601.1 L166.5,599.6 L166.8,598.1 L167.1,596.5 L167.3,594.9 L167.6,593.3 L167.9,591.6 L168.1,589.8 L168.4,588.0 L168.6,586.6 L168.8,585.3 L169.0,583.8 L169.1,582.4 L169.3,580.9 L169.5,579.4 L169.7,577.9 L169.8,576.3 L170.0,574.8 L170.2,573.2 L170.4,571.6 L170.6,570.0 L170.7,568.3 L170.9,566.7 L171.1,565.0 L171.3,563.4 L171.4,561.7 L171.6,560.0 L171.7,558.5 L171.9,557.1 L172.0,555.6 L172.2,554.0 L172.3,552.5 L172.5,550.9 L172.6,549.3 L172.8,547.8 L172.9,546.2 L173.1,544.6 L173.2,543.0 L173.4,541.4 L173.5,539.8 L173.7,538.2 L173.8,536.6 L174.0,535.0 L174.1,533.5 L174.2,531.9 L174.4,530.4 L174.5,528.9 L174.7,527.4 L174.9,525.8 L175.0,524.2 L175.2,522.7 L175.4,521.1 L175.6,519.6 L175.7,518.2 L175.9,516.7 L176.1,515.2 L176.3,513.7 L176.4,512.3 L176.6,510.8 L176.8,509.3 L177.0,507.8 L177.1,506.3 L177.3,504.8 L177.5,503.2 L177.7,501.6 L177.8,500.0 L178.0,498.3 L178.1,496.9 L178.3,495.4 L178.4,493.9 L178.6,492.4 L178.7,490.9 L178.9,489.3 L179.0,487.7 L179.2,486.1 L179.4,484.5 L179.5,482.9 L179.7,481.2 L179.8,479.6 L180.0,478.0 L180.1,476.4 L180.2,474.8 L180.4,473.3 L180.5,471.7 L180.6,470.2 L180.8,468.8 L180.9,467.3 L181.0,465.9 L181.1,464.6 L181.2,463.3 L181.3,461.4 L181.4,459.6 L181.5,457.9 L181.6,456.2 L181.7,454.6 L181.7,453.0 L181.8,451.5 L181.8,450.0 L181.9,448.6 L181.9,447.2 L182.0,445.7 L182.0,444.3 L182.1,442.9 L182.2,441.5 L182.3,440.0 L182.4,438.4 L182.6,436.9 L182.7,435.5 L182.8,434.0 L183.0,432.6 L183.1,431.2 L183.3,429.8 L183.5,428.4 L183.6,426.9 L183.8,425.4 L184.0,423.9 L184.2,422.3 L184.4,420.7 L184.6,419.0 L184.8,417.6 L184.9,416.0 L185.1,414.3 L185.3,412.6 L185.5,410.8 L185.7,408.9 L185.9,407.1 L186.1,405.2 L186.4,403.3 L186.6,401.5 L186.8,399.8 L187.0,398.1 L187.2,396.5 L187.4,395.1 L187.6,393.8 L187.8,392.7 L188.0,391.7 L188.2,391.0 M189.7,390.8 L190.4,393.5 L191.1,396.9 L191.3,397.9 L191.5,399.1 L191.8,400.2 L192.0,401.5 L192.2,402.9 L192.4,404.3 L192.7,405.8 L192.9,407.4 L193.1,409.1 L193.4,410.9 L193.6,412.8 L193.8,414.7 L194.1,416.8 L194.3,418.9 L194.4,420.1 L194.6,421.4 L194.7,422.7 L194.8,424.1 L194.9,425.6 L195.1,427.1 L195.2,428.6 L195.3,430.2 L195.5,431.8 L195.6,433.4 L195.7,435.1 L195.9,436.7 L196.0,438.4 L196.1,440.1 L196.3,441.7 L196.4,443.4 L196.5,445.0 L196.7,446.6 L196.8,448.2 L196.9,449.7 L197.0,451.2 L197.2,452.6 L197.3,454.0 L197.4,455.3 L197.5,456.6 L197.6,457.8 L197.8,459.8 L198.0,461.4 L198.1,462.9 L198.2,464.1 L198.4,465.2 L198.5,466.3 L198.6,467.3 L198.7,468.4 L198.9,469.6 L199.0,470.9 L199.2,472.4 L199.4,474.2 L199.6,476.4 L199.8,478.9 L199.9,480.0 L200.0,481.2 L200.1,482.4 L200.2,483.7 L200.3,485.1 L200.4,486.5 L200.6,487.9 L200.7,489.4 L200.8,491.0 L201.0,492.6 L201.1,494.2 L201.2,495.8 L201.4,497.5 L201.5,499.2 L201.6,500.9 L201.8,502.7 L201.9,504.4 L202.1,506.2 L202.2,507.9 L202.4,509.7 L202.5,511.4 L202.6,513.1 L202.8,514.9 L202.9,516.6 L203.1,518.3 L203.2,519.9 L203.3,521.5 L203.5,523.1 L203.6,524.7 L203.7,526.2 L203.8,527.7 L204.0,529.1 L204.1,530.5 L204.2,531.8 L204.3,533.0 L204.4,534.2 L204.6,536.4 L204.8,538.5 L205.0,540.4 L205.1,542.3 L205.3,544.0 L205.4,545.6 L205.6,547.2 L205.7,548.6 L205.8,550.0 L206.0,551.4 L206.1,552.7 L206.2,553.9 L206.4,555.2 L206.5,556.4 L206.6,557.7 L206.8,558.9 L206.9,560.2 L207.1,561.5 L207.3,563.3 L207.6,565.1 L207.8,566.8 L208.1,568.4 L208.4,570.0 L208.6,571.6 L208.9,573.1 L209.2,574.6 L209.4,576.1 L209.7,577.6 L210.0,579.1 L210.2,580.5 L210.5,582.0 L210.8,583.6 L211.1,585.1 L211.3,586.7 L211.6,588.2 L211.9,589.7 L212.2,591.2 L212.5,592.6 L212.8,594.1 L213.1,595.5 L213.3,596.9 L213.6,598.4 L213.9,599.8 L214.2,601.4 L214.5,602.9 L214.8,604.5 L215.1,606.1 L215.4,607.7 L215.7,609.2 L216.0,610.7 L216.3,612.2 L216.6,613.6 L217.0,614.9 L217.3,616.2 L217.8,618.1 L218.4,619.9 L219.0,621.5 L219.6,623.1 M228.0,635.2 L229.9,635.8 L231.7,636.0 L233.4,635.6 M248.2,610.9 L248.8,609.4 L249.3,607.9 L249.8,606.4 L250.3,604.9 L250.7,603.4 L251.2,601.8 L251.6,600.3 L252.0,598.8 L252.5,597.2 L252.9,595.7 L253.3,594.2 L253.8,592.8 L254.2,591.4 L254.6,590.0 L255.1,588.6 L255.5,587.1 L256.0,585.5 L256.5,583.8 L257.0,582.0 L257.4,580.7 L257.7,579.3 L258.1,577.9 L258.5,576.3 L258.9,574.8 L259.4,573.2 L259.8,571.5 L260.2,569.9 L260.6,568.4 L261.0,566.8 L261.4,565.4 L261.8,564.0 L262.2,562.7 L262.5,561.5 L263.1,559.4 L263.7,557.7 L264.2,556.1 L264.6,554.7 L265.1,553.5 L265.5,552.2 L266.0,551.0 M277.2,536.1 L278.9,535.8 L280.3,536.0 L281.7,536.6 M397.3,658.6 L398.9,659.2 L400.3,659.7 L401.7,660.1 L403.1,660.5 L404.5,660.8 L406.1,661.1 L407.9,661.4 L409.3,661.6 L410.7,661.7 L412.2,661.9 L413.8,662.0 L415.4,662.1 L417.0,662.2 L418.7,662.3 L420.3,662.4 L422.0,662.4 L423.7,662.4 L425.3,662.4 L426.9,662.4 L428.5,662.3 L430.2,662.3 L431.9,662.2 L433.6,662.1 L435.2,662.0 L436.8,661.9 L438.4,661.8 L439.9,661.6 L441.3,661.4 L443.1,661.1 L444.7,660.8 L446.3,660.4 L447.8,660.0 L449.2,659.5 L450.6,659.0 L452.1,658.5 L453.6,658.0 L455.1,657.4 M487.1,643.2 L488.7,642.6 L490.1,642.1 L491.4,641.7 L492.8,641.3 L494.2,641.0 L495.6,640.6 L497.1,640.3 L498.7,640.0 L500.5,639.7 L501.9,639.5 L503.3,639.2 L504.8,639.0 L506.4,638.7 L508.0,638.5 L509.7,638.3 L511.3,638.1 L513.0,637.9 L514.7,637.7 L516.4,637.6 L518.1,637.6 L519.7,637.6 L521.3,637.6 L523.0,637.7 L524.7,637.8 L526.4,638.0 L528.1,638.1 L529.8,638.3 L531.5,638.5 L533.1,638.7 L534.7,638.9 L536.1,639.1 L537.5,639.3 L539.4,639.6 L541.1,640.0 L542.7,640.4 L544.2,640.8 L545.6,641.2 L547.0,641.6 L548.4,642.1 L549.8,642.5 L551.4,643.0 L552.9,643.5 L554.4,644.1 L555.9,644.6 L557.3,645.2 M611.4,674.8 L613.0,675.4 L614.5,675.9 L615.9,676.4 L617.5,676.9 L619.0,677.3 L620.6,677.7 L622.2,678.2 L623.7,678.6 L625.3,679.1 L626.9,679.6 L628.4,680.1 L630.0,680.6 L631.6,681.2 L633.2,681.7 L634.7,682.2 L636.2,682.8 L637.7,683.3 L639.3,683.9 L640.8,684.5 M700.6,717.6 L702.2,718.2 L703.7,718.8 L705.1,719.2 L706.5,719.6 L708.0,720.0 L709.6,720.3 L711.4,720.6 L713.1,720.7 L714.8,720.9 L716.3,720.9 L718.4,720.8 L720.2,720.4 L722.0,720.0 L723.7,719.5 L725.3,719.0 L727.2,718.4 L728.6,718.1 L730.1,717.7 L731.8,717.3 L733.4,716.9 L735.0,716.5 L736.6,716.0 L738.2,715.4 L739.8,714.8 L741.3,714.2 L742.8,713.6 L744.5,712.9 M758.4,706.6 L760.0,706.0 L761.4,705.6 L762.9,705.2 L764.5,704.8 L766.3,704.5 L767.7,704.3 L769.2,704.0 L770.8,703.8 L772.4,703.6 L774.0,703.5 L775.6,703.4 L777.2,703.4 L778.7,703.5 L780.3,703.7 L781.9,703.9 L783.4,704.1 L785.0,704.4 L786.6,704.7 L788.1,705.1 L789.7,705.5 L791.3,706.0 L792.8,706.4 L794.4,706.8 L796.0,707.2 L797.6,707.5 L799.2,707.9 L800.8,708.2 L802.3,708.6 L803.8,708.9 L805.4,709.3 L806.7,709.6 L808.1,710.0 L809.7,710.4 L811.6,710.9 L812.9,711.2 L814.2,711.5 L815.7,711.9 L817.2,712.3 L818.8,712.7 L820.5,713.1 L822.2,713.4 L823.9,713.8 L825.6,714.2 L827.0,714.5 L828.5,714.8 L830.0,715.1 L831.6,715.4 L833.1,715.7 L834.7,716.0 L836.3,716.3 L837.9,716.6 L839.5,716.9 L841.2,717.2 L842.8,717.5 L844.3,717.8 L845.9,718.0 L847.4,718.3 L849.0,718.6 L850.6,718.8 L852.2,719.1 L853.8,719.4 L855.4,719.6 L857.0,719.9 L858.5,720.2 L860.1,720.4 L861.6,720.7 L863.2,721.0 L864.8,721.3 L866.4,721.6 L868.0,722.0 L869.6,722.3 L871.2,722.6 L872.7,722.9 L874.3,723.3 L875.8,723.6 L877.3,723.9 L878.8,724.2 L880.4,724.5 L882.0,724.8 L883.6,725.2 L885.2,725.5 L886.7,725.8 L888.2,726.1 L889.8,726.4 L891.3,726.7 L892.8,727.0 L894.4,727.3 L896.0,727.6 L897.5,727.9 L899.1,728.3 L900.7,728.6 L902.3,728.9 L903.9,729.2 L905.4,729.5 L907.0,729.9 L908.5,730.2 L910.0,730.5 L911.6,730.8 L913.3,731.2 L914.9,731.5 L916.5,731.9 L918.0,732.2 L919.6,732.5 L921.1,732.9 L922.6,733.2 L924.1,733.6 L925.7,734.0 L927.3,734.4 L928.8,734.9 L930.4,735.3 L931.9,735.7 L933.4,736.2 L935.0,736.6 L936.6,737.0 L938.1,737.4 L939.7,737.7 L941.3,738.1 L942.9,738.5 L944.6,738.8 L946.2,739.2 L947.7,739.5 L949.2,739.8 L950.6,740.1 L952.6,740.5 L954.5,740.9 L956.4,741.2 L958.0,741.5 L959.4,741.7 L960.4,741.9" fill="none" stroke="#000" stroke-width="2.90" stroke-linejoin="round" stroke-linecap="round"/>
<path d="M132.3,769.3 L132.7,769.1 L133.2,768.2 M219.6,623.1 L220.2,624.5 L220.8,625.9 L221.4,627.2 L222.3,628.9 M233.4,635.6 L235.0,634.7 M239.2,629.9 L240.0,628.5 L240.8,627.1 L241.5,625.7 L242.3,624.1 L243.3,622.0 L243.8,620.9 L244.4,619.6 L245.0,618.3 L245.7,616.9 L246.3,615.4 L247.0,613.9 L247.6,612.4 L248.2,610.9 M266.0,551.0 L266.7,549.3 L267.3,547.8 L268.0,546.3 L268.6,545.0 L269.3,543.8 L270.3,542.0 M275.6,536.9 L277.2,536.1 M281.7,536.6 L283.1,537.4 M287.4,542.0 L288.2,543.5 L289.0,545.0 L289.7,546.5 L290.5,548.0 L291.2,549.3 L291.9,550.6 L292.6,551.9 L293.3,553.3 L294.0,554.7 L294.6,556.0 L295.3,557.4 L296.0,559.0 L296.8,560.6 L297.4,562.2 L298.1,563.8 L298.8,565.4 L299.5,567.0 L300.2,568.6 L300.8,570.2 L301.5,571.9 L302.2,573.5 L302.8,575.1 L303.5,576.6 L304.2,578.1 L304.8,579.5 L305.5,580.9 L306.2,582.3 L306.8,583.6 L307.5,585.0 L308.2,586.4 L308.9,587.7 L309.5,589.0 L310.2,590.3 L311.0,591.7 L311.7,593.0 L312.5,594.3 L313.3,595.7 M349.4,634.2 L350.7,634.9 L352.1,635.7 L353.4,636.4 L354.8,637.2 L356.2,637.9 L357.6,638.6 L359.0,639.4 L360.4,640.1 L361.8,640.8 L363.1,641.6 L364.5,642.3 L365.9,643.0 L367.2,643.7 L368.6,644.5 L370.0,645.2 L371.3,645.9 L372.7,646.6 L374.1,647.3 L375.4,648.0 L376.8,648.7 L378.2,649.3 L379.5,650.0 L380.9,650.7 L382.3,651.4 L383.6,652.0 L385.0,652.7 L386.4,653.4 L387.8,654.1 L389.2,654.8 L390.6,655.5 L391.9,656.2 L393.3,656.9 L394.7,657.5 L396.0,658.1 L397.3,658.6 M455.1,657.4 L456.7,656.8 L458.2,656.1 L459.8,655.5 L461.3,654.8 L462.8,654.1 L464.4,653.4 L465.9,652.7 L467.4,652.0 L469.0,651.4 L470.6,650.7 L472.2,650.1 L473.7,649.4 L475.3,648.8 L476.7,648.1 L478.2,647.5 L479.8,646.8 L481.3,646.0 L482.8,645.3 L484.2,644.5 L485.7,643.8 L487.1,643.2 M557.3,645.2 L558.8,645.8 L560.3,646.4 L561.8,647.1 L563.3,647.8 L564.8,648.5 L566.4,649.3 L567.9,650.0 L569.4,650.8 L570.9,651.6 L572.4,652.4 L573.9,653.2 L575.4,654.0 L576.9,654.8 L578.4,655.6 L579.9,656.5 L581.4,657.3 L582.7,658.0 L584.0,658.8 L585.4,659.5 L586.7,660.2 L588.0,660.9 L589.4,661.7 L590.7,662.5 M602.5,670.5 L604.0,671.3 L605.4,672.1 L606.9,672.8 L608.4,673.5 L609.9,674.2 L611.4,674.8 M640.8,684.5 L642.3,685.1 L643.8,685.7 L645.3,686.4 L646.7,687.0 L648.2,687.7 L649.7,688.4 L651.2,689.2 L652.8,689.9 L654.3,690.7 L655.8,691.5 L657.3,692.3 L658.7,693.0 L660.3,693.8 L661.8,694.6 L663.2,695.3 L664.7,696.1 L666.1,696.9 M677.2,705.0 L678.7,705.8 L680.3,706.6 L681.8,707.4 L683.4,708.3 M689.9,712.6 L691.3,713.4 L692.8,714.2 L694.4,714.9 L696.0,715.7 L697.6,716.4 L699.1,717.0 L700.6,717.6 M744.5,712.9 L746.1,712.3 L747.6,711.7 L749.1,711.0 L750.7,710.3 L752.3,709.5 L753.9,708.7 L755.3,708.0 L756.9,707.2 L758.4,706.6" fill="none" stroke="#000" stroke-width="2.61" stroke-linejoin="round" stroke-linecap="round"/>
<path d="M132.0,768.8 L132.3,769.3 M188.2,391.0 L189.0,389.7 L189.7,390.8 M222.3,628.9 L223.2,630.5 L224.2,631.8 M226.2,634.0 L228.0,635.2 M237.5,632.5 L238.3,631.2 L239.2,629.9 M270.3,542.0 L271.4,540.4 M274.0,537.9 L275.6,536.9 M283.1,537.4 L284.5,538.4 M286.6,540.7 L287.4,542.0 M313.3,595.7 L314.1,597.1 L314.9,598.4 L315.7,599.7 L316.5,601.0 L317.4,602.5 L318.4,603.8 L319.3,605.2 L320.3,606.6 L321.3,608.0 L322.1,609.2 L323.0,610.4 L323.8,611.7 L324.7,613.0 L325.8,614.3 M338.9,627.3 L340.2,628.2 L341.5,629.2 L342.7,630.0 L344.0,630.9 L345.4,631.7 L346.7,632.5 L348.1,633.4 L349.4,634.2 M590.7,662.5 L592.0,663.3 L593.3,664.2 L594.6,665.1 L595.9,666.0 L597.3,667.0 L598.6,667.9 L599.9,668.8 L601.2,669.7 L602.5,670.5 M666.1,696.9 L667.5,697.8 L668.9,698.8 L670.3,699.8 M674.3,703.1 L675.6,704.0 L677.2,705.0 M683.4,708.3 L684.7,709.1 L686.0,710.0 L687.3,710.9 L688.6,711.7 L689.9,712.6" fill="none" stroke="#000" stroke-width="2.41" stroke-linejoin="round" stroke-linecap="round"/>
<path d="M224.2,631.8 L225.2,633.0 L226.2,634.0 M235.0,634.7 L236.5,633.5 L237.5,632.5 M271.4,540.4 L272.7,539.0 L274.0,537.9 M284.5,538.4 L285.7,539.6 L286.6,540.7 M325.8,614.3 L327.0,615.8 L328.0,616.9 L329.0,618.0 L330.2,619.2 L331.4,620.4 L332.6,621.7 L333.9,622.9 L335.2,624.1 L336.4,625.2 L337.6,626.2 L338.9,627.3 M670.3,699.8 L671.6,700.9 L672.9,702.0 L674.3,703.1" fill="none" stroke="#000" stroke-width="2.17" stroke-linejoin="round" stroke-linecap="round"/>
<path d="M131.5,974.5 L132.7,974.5 L134.5,974.5 M137.5,971.0 L138.2,969.2 M147.3,954.6 L149.2,954.0 L151.1,953.8 L152.8,953.4 M173.3,924.3 L174.8,923.9 L176.3,923.4 M185.7,912.8 L186.4,911.0 L187.0,909.0 L187.4,907.4 L187.7,905.7 L188.0,903.9 L188.3,902.0 L188.6,900.5 L188.8,899.1 L189.1,897.5 L189.3,895.9 L189.6,894.0 L189.8,892.8 L189.9,891.7 L190.1,890.6 L190.3,889.4 L190.4,888.0 L190.7,886.4 L190.9,884.4 L191.2,882.0 L191.3,880.9 L191.5,879.8 L191.6,878.5 L191.8,877.3 L191.9,875.9 L192.1,874.6 L192.3,873.1 L192.5,871.6 L192.6,870.1 L192.8,868.6 L193.0,867.0 L193.2,865.4 L193.4,863.7 L193.6,862.1 L193.8,860.4 L194.0,858.7 L194.2,856.9 L194.3,855.2 L194.5,853.4 L194.7,851.7 L194.8,850.3 L195.0,849.0 L195.1,847.6 L195.2,846.2 L195.4,844.8 L195.5,843.3 L195.6,841.9 L195.8,840.4 L195.9,838.9 L196.0,837.4 L196.2,835.9 L196.3,834.4 L196.5,832.9 L196.6,831.3 L196.7,829.8 L196.9,828.2 L197.0,826.6 L197.1,825.0 L197.3,823.4 L197.4,821.8 L197.5,820.2 L197.7,818.6 L197.8,816.9 L197.9,815.3 L198.1,813.7 L198.2,812.0 L198.3,810.6 L198.4,809.1 L198.5,807.7 L198.7,806.2 L198.8,804.7 L198.9,803.1 L199.0,801.6 L199.1,800.0 L199.2,798.4 L199.4,796.8 L199.5,795.2 L199.6,793.6 L199.7,791.9 L199.8,790.3 L199.9,788.7 L200.1,787.1 L200.2,785.5 L200.3,783.9 L200.4,782.3 L200.5,780.8 L200.6,779.2 L200.7,777.7 L200.9,776.2 L201.0,774.7 L201.1,773.3 L201.2,771.9 L201.3,770.5 L201.4,769.2 L201.5,767.9 L201.6,766.6 L201.7,765.4 L201.9,763.4 L202.0,761.6 L202.2,759.9 L202.3,758.2 L202.5,756.7 L202.7,755.2 L202.8,753.8 L202.9,752.5 L203.1,751.1 L203.2,749.8 L203.4,748.5 L203.5,747.2 L203.7,745.9 L203.8,744.6 L203.9,743.1 L204.1,741.7 L204.2,740.1 L204.4,738.5 L204.5,737.1 L204.7,735.7 L204.8,734.3 L204.9,732.9 L205.0,731.4 L205.2,729.9 L205.3,728.5 L205.4,727.0 L205.6,725.5 L205.7,723.9 L205.8,722.4 L205.9,720.9 L206.1,719.3 L206.2,717.7 L206.3,716.1 L206.5,714.5 L206.6,712.9 L206.7,711.3 L206.9,709.7 L207.0,708.1 L207.2,706.4 L207.3,704.8 L207.4,703.4 L207.5,701.9 L207.7,700.4 L207.8,698.9 L207.9,697.3 L208.0,695.7 L208.2,694.1 L208.3,692.4 L208.4,690.8 L208.6,689.1 L208.7,687.5 L208.8,685.8 L209.0,684.2 L209.1,682.6 L209.2,681.0 L209.4,679.4 L209.5,677.8 L209.6,676.3 L209.7,674.8 L209.9,673.4 L210.0,672.0 L210.1,670.6 L210.2,669.4 L210.4,668.1 L210.5,667.0 L210.6,665.9 L210.9,663.3 L211.2,660.9 L211.5,658.7 L211.7,656.8 L212.0,655.0 L212.3,653.6 L212.5,652.4 L212.8,651.5 L213.1,650.8 M213.3,650.5 L213.6,650.6 M214.0,651.5 L214.3,652.9 L214.6,654.8 L214.9,657.1 L215.2,659.5 L215.5,662.0 L215.6,663.2 L215.7,664.4 L215.8,665.6 L215.9,666.8 L216.0,668.1 L216.1,669.4 L216.1,670.9 L216.2,672.3 L216.3,673.9 L216.4,675.5 L216.5,677.3 L216.6,679.1 L216.7,681.1 L216.8,683.2 L217.0,685.4 L217.1,686.6 L217.2,687.8 L217.3,689.0 L217.4,690.3 L217.5,691.6 L217.6,693.0 L217.7,694.4 L217.8,695.8 L217.9,697.2 L218.0,698.7 L218.1,700.2 L218.3,701.7 L218.4,703.3 L218.5,704.8 L218.6,706.4 L218.7,708.0 L218.9,709.6 L219.0,711.2 L219.1,712.8 L219.2,714.4 L219.4,716.1 L219.5,717.7 L219.6,719.4 L219.7,721.0 L219.8,722.7 L219.9,724.3 L220.0,725.9 L220.1,727.6 L220.2,729.2 L220.3,730.8 L220.4,732.3 L220.5,733.7 L220.5,735.2 L220.6,736.7 L220.7,738.2 L220.7,739.7 L220.8,741.2 L220.8,742.7 L220.9,744.2 L220.9,745.7 L221.0,747.3 L221.1,748.8 L221.1,750.3 L221.2,751.9 L221.2,753.4 L221.3,755.0 L221.3,756.5 L221.4,758.1 L221.4,759.6 L221.5,761.2 L221.5,762.8 L221.6,764.3 L221.6,765.9 L221.7,767.5 L221.7,769.0 L221.8,770.6 L221.8,772.2 L221.9,773.8 L221.9,775.4 L222.0,776.9 L222.1,778.5 L222.1,780.1 L222.2,781.7 L222.3,783.2 L222.3,784.7 L222.4,786.2 L222.5,787.8 L222.5,789.3 L222.6,790.9 L222.7,792.4 L222.8,794.0 L222.8,795.6 L222.9,797.2 L223.0,798.8 L223.1,800.4 L223.1,801.9 L223.2,803.5 L223.3,805.1 L223.4,806.7 L223.5,808.3 L223.5,809.9 L223.6,811.5 L223.7,813.1 L223.8,814.6 L223.9,816.2 L224.0,817.7 L224.0,819.3 L224.1,820.8 L224.2,822.4 L224.3,823.9 L224.4,825.4 L224.5,826.8 L224.6,828.3 L224.6,829.8 L224.7,831.2 L224.8,832.6 L224.9,834.0 L225.0,835.4 L225.1,837.1 L225.2,838.8 L225.3,840.5 L225.5,842.2 L225.6,843.9 L225.7,845.5 L225.8,847.2 L225.9,848.8 L226.0,850.4 L226.1,852.0 L226.3,853.6 L226.4,855.2 L226.5,856.8 L226.6,858.3 L226.8,859.8 L226.9,861.3 L227.0,862.8 L227.1,864.3 L227.3,865.7 L227.4,867.1 L227.5,868.5 L227.7,869.9 L227.8,871.2 L227.9,872.5 L228.1,873.8 L228.2,875.0 L228.4,876.2 L228.5,877.4 L228.8,879.5 L229.1,881.5 L229.4,883.4 L229.7,885.2 L230.0,886.9 L230.4,888.5 L230.7,890.1 L231.0,891.5 L231.3,892.9 L231.7,894.3 L232.0,895.6 L232.3,896.9 L232.6,898.1 L232.9,899.3 L233.2,900.5 L233.7,902.6 L234.1,904.4 L234.5,906.0 L234.9,907.4 L235.2,908.8 L235.7,910.1 L236.1,911.5 L236.7,912.9 M265.1,937.8 L266.5,938.3 L268.0,938.8 L269.4,939.3 L271.0,939.7 L272.7,940.1 L274.1,940.4 L275.6,940.6 L277.2,940.8 L278.8,941.0 L280.5,941.2 L282.1,941.4 L283.7,941.5 L285.3,941.7 L286.8,941.9 L288.4,942.1 L290.0,942.3 L291.5,942.4 L293.1,942.6 L294.6,942.8 L296.1,943.0 L297.6,943.3 L299.1,943.6 L300.6,944.0 L302.2,944.6 L303.8,945.1 L305.4,945.7 M306.9,946.4 L308.4,947.0 L309.9,947.5 L311.4,948.0 L312.9,948.5 L314.4,948.9 L315.7,949.3 L317.1,949.7 L318.5,950.1 L320.1,950.3 L322.0,950.6 L323.3,950.7 L324.7,950.8 L326.2,950.9 L327.7,951.0 L329.3,951.1 L330.9,951.1 L332.6,951.2 L334.3,951.2 L336.0,951.2 L337.7,951.2 L339.5,951.2 L340.9,951.2 L342.4,951.2 L343.9,951.2 L345.5,951.1 L347.1,951.1 L348.7,951.1 L350.3,951.0 L351.9,951.0 L353.4,950.9 L355.0,950.9 L356.5,950.8 L357.9,950.8 L359.3,950.7 L360.6,950.6 L362.5,950.5 L364.2,950.3 L365.9,950.1 L367.4,949.9 L368.9,949.7 L370.4,949.5 L371.8,949.3 L373.3,949.1 L374.7,948.9 L376.3,948.7 L377.9,948.5 L379.4,948.3 L380.9,948.1 L382.3,947.9 L383.8,947.8 L385.4,947.6 L387.0,947.5 L388.5,947.4 L390.0,947.4 L391.5,947.4 L393.1,947.4 L394.7,947.4 L396.3,947.4 L397.9,947.4 L399.4,947.4 L401.0,947.3 L402.6,947.2 L404.1,947.1 L405.6,946.9 L407.2,946.7 L408.7,946.5 L410.3,946.3 L411.8,946.2 L413.4,946.0 L415.0,945.8 L416.4,945.7 L417.9,945.5 L419.3,945.3 L420.7,945.2 L422.1,945.0 L423.6,944.9 L425.1,944.7 L426.7,944.6 L428.3,944.5 L430.0,944.4 L431.4,944.3 L432.8,944.3 L434.4,944.3 L435.9,944.2 L437.5,944.2 L439.1,944.2 L440.8,944.2 L442.4,944.2 L444.0,944.2 L445.6,944.1 L447.1,944.1 L448.6,944.1 L450.0,944.1 L451.8,944.1 L453.5,944.1 L455.2,944.0 L456.9,944.0 L458.5,944.0 L460.1,944.0 L461.6,944.0 L463.1,943.9 L464.6,943.9 L466.0,943.8 L467.7,943.7 L469.2,943.5 L470.6,943.4 L471.9,943.2 L473.3,943.0 L474.8,942.8 L476.5,942.7 L478.4,942.5 L479.7,942.4 L481.1,942.3 L482.5,942.2 L484.0,942.1 L485.5,942.0 L487.1,941.9 L488.7,941.8 L490.4,941.7 L492.0,941.7 L493.7,941.6 L495.3,941.5 L497.0,941.5 L498.6,941.4 L500.1,941.4 L501.6,941.3 L503.2,941.3 L504.7,941.3 L506.3,941.3 L507.9,941.3 L509.5,941.3 L511.1,941.3 L512.6,941.2 L514.1,941.2 L515.7,941.2 L517.1,941.2 L518.6,941.2 L520.0,941.2 L521.8,941.2 L523.5,941.2 L525.2,941.1 L526.9,941.1 L528.6,941.1 L530.2,941.0 L531.7,941.0 L533.2,941.0 L534.7,940.9 L536.0,940.9 L537.3,940.8 L539.3,940.6 L540.9,940.5 L542.4,940.3 L543.7,940.0 L545.2,939.8 L547.0,939.6 L548.3,939.4 L549.7,939.3 L551.2,939.1 L552.7,939.0 L554.2,938.8 L555.8,938.6 L557.5,938.5 L559.2,938.3 L561.0,938.2 L562.4,938.1 L563.9,938.1 L565.5,938.0 L567.2,937.9 L568.9,937.9 L570.6,937.9 L572.3,937.8 L573.9,937.8 L575.5,937.7 L576.9,937.7 L578.3,937.6 L579.5,937.5 L581.7,937.3 L583.2,937.0 L584.5,936.6 L585.9,936.3 L588.0,936.0 L589.2,935.9 L590.3,935.7 L591.5,935.6 L592.8,935.4 L594.1,935.2 L595.6,935.1 L597.1,934.9 L598.8,934.8 L600.7,934.7 L602.7,934.6 L605.0,934.5 L606.1,934.5 L607.3,934.4 L608.5,934.4 L609.7,934.4 L610.9,934.4 L612.2,934.4 L613.5,934.3 L614.9,934.3 L616.2,934.3 L617.6,934.3 L619.1,934.3 L620.6,934.3 L622.1,934.3 L623.7,934.3 L625.3,934.3 L626.9,934.3 L628.6,934.3 L630.4,934.3 L632.2,934.3 L634.1,934.3 L636.0,934.3 L638.0,934.3 L640.0,934.3 L641.2,934.3 L642.5,934.3 L643.8,934.3 L645.1,934.3 L646.5,934.3 L647.9,934.3 L649.3,934.3 L650.8,934.3 L652.3,934.3 L653.8,934.3 L655.3,934.3 L656.9,934.3 L658.5,934.3 L660.1,934.3 L661.7,934.3 L663.3,934.3 L664.9,934.3 L666.6,934.3 L668.2,934.3 L669.9,934.3 L671.5,934.3 L673.2,934.3 L674.8,934.3 L676.5,934.3 L678.1,934.3 L679.7,934.3 L681.3,934.3 L682.9,934.3 L684.5,934.3 L686.0,934.3 L687.6,934.3 L689.1,934.3 L690.6,934.3 L692.0,934.3 L693.4,934.3 L694.8,934.3 L696.2,934.3 L697.5,934.3 L698.8,934.3 L700.0,934.3 L702.0,934.3 L704.0,934.3 L706.0,934.3 L707.9,934.3 L709.8,934.3 L711.7,934.3 L713.6,934.3 L715.4,934.3 L717.2,934.3 L718.9,934.3 L720.6,934.3 L722.2,934.3 L723.8,934.3 L725.4,934.3 L726.8,934.3 L728.3,934.3 L729.6,934.3 L730.9,934.3 L732.1,934.3 L733.2,934.3 L734.3,934.3 L735.3,934.3 L736.2,934.3 L737.0,934.3" fill="none" stroke="#000" stroke-width="2.90" stroke-linejoin="round" stroke-linecap="round"/>
<path d="M134.5,974.5 L136.0,973.8 M136.8,972.6 L137.5,971.0 M138.2,969.2 L138.9,967.5 L139.5,966.1 L140.2,964.7 L140.9,963.2 L141.5,961.9 L142.2,960.6 L143.3,958.7 M155.4,950.7 L156.1,949.5 L156.8,948.0 L157.5,946.4 L158.3,944.8 L159.1,943.1 L159.9,941.4 L160.8,939.7 L161.6,938.2 M165.7,932.7 L166.5,931.2 L167.3,929.8 M171.9,925.0 L173.3,924.3 M176.3,923.4 L177.8,922.8 L179.4,922.1 L180.7,921.3 M183.0,918.4 L184.0,916.6 L185.0,914.5 L185.7,912.8 M213.6,650.6 L214.0,651.5 M236.7,912.9 L237.3,914.4 L238.0,915.9 L238.7,917.4 L239.5,918.9 L240.3,920.4 M253.0,932.2 L254.5,933.0 L256.0,933.8 L257.6,934.5 L259.1,935.3 L260.7,936.0 L262.2,936.6 L263.7,937.2 L265.1,937.8 M305.4,945.7 L306.9,946.4" fill="none" stroke="#000" stroke-width="2.61" stroke-linejoin="round" stroke-linecap="round"/>
<path d="M136.0,973.8 L136.8,972.6 M143.3,958.7 L144.4,957.1 M145.5,955.8 L147.3,954.6 M152.8,953.4 L154.1,952.4 L155.4,950.7 M161.6,938.2 L162.7,936.7 M164.9,934.0 L165.7,932.7 M167.3,929.8 L168.2,928.5 M170.6,926.0 L171.9,925.0 M182.0,920.0 L183.0,918.4 M213.1,650.8 L213.3,650.5 M240.3,920.4 L241.1,921.8 L242.0,923.1 L242.9,924.3 M246.4,927.7 L247.6,928.6 L248.9,929.6 L250.2,930.4 L251.6,931.3 L253.0,932.2" fill="none" stroke="#000" stroke-width="2.41" stroke-linejoin="round" stroke-linecap="round"/>
<path d="M144.4,957.1 L145.5,955.8 M162.7,936.7 L163.8,935.4 L164.9,934.0 M168.2,928.5 L169.4,927.1 L170.6,926.0 M180.7,921.3 L182.0,920.0 M242.9,924.3 L244.0,925.5 L245.1,926.7 L246.4,927.7" fill="none" stroke="#000" stroke-width="2.17" stroke-linejoin="round" stroke-linecap="round"/>
<path d="M155.6,1172.0 L156.5,1171.8 L157.6,1171.5 L159.0,1171.2 L160.5,1170.8 L162.2,1170.4 L163.9,1170.0 L165.7,1169.6 L167.5,1169.3 L169.3,1169.0 L170.8,1168.8 L172.3,1168.7 L173.8,1168.5 L175.4,1168.4 L177.0,1168.3 L178.7,1168.2 L180.3,1168.2 L182.0,1168.1 L183.6,1168.0 L185.3,1167.8 L186.9,1167.7 L188.5,1167.5 L190.2,1167.4 L191.8,1167.2 L193.5,1167.0 L195.1,1166.8 L196.8,1166.6 L198.4,1166.4 L200.0,1166.2 L201.5,1166.0 L203.1,1165.8 L204.5,1165.7 L206.2,1165.6 L207.8,1165.5 L209.4,1165.4 L210.9,1165.4 L212.4,1165.3 L213.9,1165.2 L215.3,1165.1 L216.7,1165.0 L218.1,1164.8 L219.7,1164.5 L221.2,1164.2 L222.6,1163.8 L224.1,1163.4 L225.5,1163.0 L226.9,1162.5 L228.3,1162.1 L229.8,1161.6 L231.2,1161.1 L232.7,1160.6 M236.9,1158.8 L238.4,1158.3 L239.9,1157.7 L241.6,1157.3 L243.0,1157.0 L244.4,1156.7 L245.9,1156.5 L247.4,1156.2 L248.9,1156.0 L250.5,1155.8 L252.1,1155.6 L253.8,1155.4 L255.5,1155.2 L257.2,1155.0 L258.6,1154.8 L260.0,1154.7 L261.5,1154.5 L263.0,1154.3 L264.5,1154.2 L266.0,1154.0 L267.6,1153.9 L269.2,1153.7 L270.7,1153.6 L272.2,1153.4 L273.8,1153.3 L275.3,1153.1 L276.7,1153.0 L278.4,1152.9 L280.0,1152.7 L281.6,1152.6 L283.2,1152.5 L284.8,1152.4 L286.4,1152.2 L288.0,1152.1 L289.6,1152.0 L291.1,1151.9 L292.7,1151.7 L294.3,1151.5 L295.9,1151.3 L297.5,1151.1 L299.2,1150.8 L300.8,1150.6 L302.4,1150.3 L304.0,1150.0 L305.6,1149.7 L307.2,1149.4 L308.8,1149.2 L310.4,1148.9 L311.9,1148.6 L313.6,1148.3 L315.2,1148.0 L316.8,1147.6 L318.4,1147.3 L320.0,1146.9 L321.6,1146.6 L323.1,1146.3 L324.6,1146.0 L326.1,1145.8 L327.5,1145.6 L329.2,1145.5 L330.7,1145.4 L332.2,1145.5 L333.6,1145.6 L335.1,1145.6 L336.6,1145.7 L338.2,1145.6 L340.0,1145.5 L341.4,1145.3 L342.8,1145.1 L344.2,1144.8 L345.7,1144.5 L347.2,1144.2 L348.8,1143.9 L350.4,1143.5 L352.1,1143.2 L353.9,1142.9 L355.7,1142.6 L357.6,1142.3 L358.9,1142.1 L360.3,1142.0 L361.7,1141.8 L363.1,1141.6 L364.6,1141.5 L366.1,1141.3 L367.7,1141.2 L369.3,1141.0 L370.8,1140.9 L372.4,1140.7 L374.0,1140.6 L375.6,1140.4 L377.1,1140.3 L378.7,1140.2 L380.1,1140.0 L381.6,1139.9 L383.0,1139.8 L384.7,1139.7 L386.3,1139.6 L387.9,1139.4 L389.4,1139.4 L391.0,1139.3 L392.5,1139.2 L394.0,1139.1 L395.5,1139.0 L397.0,1138.9 L398.5,1138.8 L400.0,1138.8 L401.5,1138.6 L403.0,1138.5 L404.5,1138.4 L406.0,1138.3 L407.5,1138.1 L409.1,1137.9 L410.6,1137.7 L412.1,1137.5 L413.6,1137.3 L415.1,1137.1 L416.6,1136.9 L418.1,1136.7 L419.6,1136.5 L421.2,1136.3 L422.7,1136.2 L424.3,1136.0 L425.9,1135.9 L427.4,1135.8 L429.0,1135.7 L430.5,1135.7 L432.1,1135.7 L433.7,1135.6 L435.3,1135.6 L436.9,1135.6 L438.5,1135.6 L440.1,1135.6 L441.7,1135.6 L443.3,1135.6 L444.9,1135.6 L446.4,1135.6 L447.9,1135.5 L449.4,1135.5 L451.1,1135.5 L452.8,1135.4 L454.5,1135.4 L456.3,1135.4 L457.9,1135.3 L459.6,1135.3 L461.3,1135.2 L462.9,1135.2 L464.4,1135.1 L465.9,1135.0 L467.3,1134.9 L468.7,1134.7 L469.9,1134.5 L471.9,1134.0 L473.6,1133.5 M482.0,1129.4 L483.5,1128.9 L485.0,1128.3 L486.5,1127.8 L488.0,1127.2 M558.0,1045.7 L559.9,1045.2 L561.8,1045.0 L563.6,1045.3 L565.3,1045.9 M614.6,1099.3 L616.1,1099.8 L617.7,1100.4 L619.3,1100.9 L620.9,1101.3 L622.4,1101.7 L623.9,1102.0 L625.3,1102.3 L626.8,1102.5 L628.5,1102.8 L630.3,1103.1 L631.7,1103.3 L633.2,1103.6 L634.8,1103.8 L636.4,1104.0 L638.1,1104.3 L639.8,1104.5 L641.4,1104.8 L642.9,1105.0 L644.4,1105.2 L646.1,1105.4 L647.6,1105.6 L649.0,1105.8 L650.5,1106.0 L651.9,1106.2 L653.5,1106.4 L655.3,1106.7 L656.7,1106.9 L658.2,1107.2 L659.7,1107.4 L661.4,1107.7 L663.0,1108.0 L664.7,1108.3 L666.3,1108.5 L667.9,1108.8 L669.4,1109.1 L670.9,1109.4 L672.6,1109.7 L674.3,1110.1 L675.9,1110.4 L677.4,1110.8 L679.0,1111.1 L680.5,1111.5 L681.9,1111.8 L683.4,1112.2 L685.1,1112.7 L686.8,1113.2 L688.5,1113.7 L690.1,1114.2 L691.6,1114.7 L693.1,1115.2 L694.4,1115.6 L696.4,1116.3 L698.0,1116.9 L699.5,1117.5 L701.0,1118.0 L702.6,1118.4 L704.2,1118.8 L705.9,1119.1 L707.5,1119.2 L709.2,1119.0 L711.0,1118.6 L712.7,1118.1 L714.2,1117.6 L715.8,1117.1 L717.2,1116.6 M799.5,1015.5 L801.1,1014.9 L802.8,1014.5 L804.4,1014.1 L806.0,1013.8 L807.6,1013.6 L809.2,1013.4 L810.7,1013.3 L812.3,1013.3 L813.8,1013.3 L815.4,1013.4 L816.9,1013.6 L818.5,1013.8 L820.1,1014.1 L821.6,1014.5 L823.3,1014.9 L825.2,1015.5 L826.5,1015.9 L828.0,1016.3 L829.5,1016.8 L831.1,1017.3 L832.6,1017.9 L834.0,1018.3 L835.2,1018.8 M949.0,1082.8 L950.5,1083.4 L952.0,1084.0 L953.7,1084.6 L955.3,1085.2 L957.0,1085.8 L958.7,1086.4 L960.3,1087.0 L961.7,1087.5 L963.1,1087.9 L964.3,1088.3 L966.7,1088.9 L968.6,1089.2 L970.0,1089.4 L971.0,1089.5" fill="none" stroke="#000" stroke-width="2.90" stroke-linejoin="round" stroke-linecap="round"/>
<path d="M232.7,1160.6 L234.1,1160.0 L235.5,1159.4 L236.9,1158.8 M473.6,1133.5 L475.1,1132.8 L476.5,1132.1 L477.8,1131.4 L479.1,1130.7 L480.6,1130.0 L482.0,1129.4 M488.0,1127.2 L489.5,1126.6 L490.9,1125.9 L492.3,1125.2 L493.8,1124.3 M529.6,1087.8 L530.4,1086.3 L531.2,1084.9 L532.0,1083.5 M535.2,1078.3 L536.0,1077.0 L536.8,1075.6 L537.6,1074.0 L538.4,1072.5 L539.2,1071.0 L540.0,1069.5 L540.8,1068.1 L541.6,1066.6 L542.4,1065.2 L543.2,1063.9 L544.0,1062.5 L544.8,1061.2 M556.3,1046.5 L558.0,1045.7 M565.3,1045.9 L567.0,1046.8 M572.5,1052.8 L573.4,1054.3 L574.2,1055.9 L575.0,1057.5 L575.8,1059.1 L576.7,1060.7 L577.5,1062.4 L578.3,1064.0 L579.1,1065.6 L579.9,1067.2 L580.7,1068.9 L581.5,1070.5 L582.3,1072.2 L583.1,1073.8 L583.9,1075.5 L584.8,1077.0 M594.3,1086.9 L595.5,1087.5 M607.5,1095.8 L608.9,1096.6 L610.2,1097.3 L611.6,1098.0 L613.1,1098.6 L614.6,1099.3 M717.2,1116.6 L718.5,1116.0 L719.8,1115.4 L721.0,1114.7 M753.8,1073.6 L754.6,1072.2 L755.3,1070.8 L755.9,1069.5 L756.7,1068.0 L757.5,1066.4 L758.5,1064.8 L759.4,1063.2 L760.2,1061.6 L761.0,1060.1 L761.7,1058.5 L762.3,1057.0 L763.1,1055.6 M794.4,1018.1 L796.1,1017.1 L797.8,1016.2 L799.5,1015.5 M835.2,1018.8 L837.2,1019.7 L838.7,1020.5 L840.5,1021.5 L841.8,1022.2 L843.3,1022.8 L844.8,1023.6 L846.4,1024.4 L848.1,1025.3 L849.4,1026.0 M897.0,1057.3 L898.3,1058.1 L899.7,1058.9 L901.0,1059.6 L902.5,1060.5 L903.9,1061.3 L905.4,1062.1 L906.8,1062.9 L908.3,1063.6 L909.7,1064.4 L911.1,1065.1 L912.5,1065.9 L913.9,1066.6 L915.3,1067.3 L916.7,1068.0 L918.1,1068.7 L919.5,1069.4 L920.9,1070.1 L922.4,1070.8 L923.7,1071.4 L925.1,1072.1 L926.5,1072.7 L927.9,1073.4 L929.4,1074.0 L930.8,1074.6 L932.2,1075.3 L933.6,1075.9 L935.0,1076.5 L936.3,1077.1 L937.7,1077.8 L939.2,1078.4 L940.5,1079.1 L941.9,1079.7 L943.2,1080.3 L944.6,1080.9 L946.0,1081.6 L947.5,1082.2 L949.0,1082.8" fill="none" stroke="#000" stroke-width="2.61" stroke-linejoin="round" stroke-linecap="round"/>
<path d="M493.8,1124.3 L495.2,1123.4 L496.6,1122.5 L498.0,1121.5 L499.4,1120.5 M525.8,1093.3 L526.7,1092.1 L527.5,1091.0 L528.6,1089.3 L529.6,1087.8 M532.0,1083.5 L532.8,1082.2 L533.6,1080.9 L534.4,1079.6 L535.2,1078.3 M544.8,1061.2 L545.6,1059.8 L546.4,1058.5 L547.2,1057.2 L548.0,1056.0 L549.0,1054.5 L550.1,1053.1 M554.8,1047.6 L556.3,1046.5 M567.0,1046.8 L568.2,1047.7 M571.6,1051.4 L572.5,1052.8 M584.8,1077.0 L585.7,1078.4 L586.6,1079.7 M593.0,1086.0 L594.3,1086.9 M595.5,1087.5 L597.0,1088.5 L598.2,1089.3 L599.5,1090.3 L600.9,1091.3 L602.3,1092.4 L603.8,1093.4 L605.0,1094.2 L606.3,1095.0 L607.5,1095.8 M721.0,1114.7 L722.5,1113.8 L723.6,1113.1 L724.9,1112.2 L726.2,1111.3 M732.0,1105.4 L733.0,1104.0 L734.0,1102.7 L735.0,1101.3 L736.0,1099.9 L736.9,1098.5 L737.8,1097.0 L738.7,1095.6 L739.5,1094.3 L740.3,1093.2 M743.8,1089.3 L744.7,1088.0 L745.6,1086.6 L746.5,1085.1 L747.3,1083.8 L748.3,1082.2 L749.2,1080.8 L750.2,1079.2 L751.1,1077.9 L752.0,1076.5 L752.9,1075.0 L753.8,1073.6 M763.1,1055.6 L763.9,1054.2 L764.8,1052.9 L765.7,1051.6 L766.6,1050.3 L767.5,1048.9 L768.4,1047.4 L769.3,1045.9 L770.2,1044.5 L771.1,1043.1 L772.0,1041.8 L772.9,1040.5 L773.7,1039.3 L774.7,1037.8 L775.7,1036.5 L776.6,1035.2 L777.5,1034.0 M791.0,1020.3 L793.0,1018.9 L794.4,1018.1 M849.4,1026.0 L850.8,1026.9 L852.2,1027.8 L853.6,1028.7 L855.1,1029.6 L856.4,1030.4 L857.6,1031.2 L859.0,1032.1 L860.2,1032.8 L861.3,1033.5 L862.5,1034.3 L864.0,1035.2 L865.1,1035.9 L866.2,1036.6 L867.4,1037.4 L868.7,1038.2 L870.0,1039.0 L871.3,1039.9 L872.7,1040.8 L874.1,1041.8 L875.3,1042.6 L876.5,1043.5 L877.8,1044.4 L879.1,1045.3 L880.4,1046.3 L881.8,1047.3 L883.1,1048.2 L884.4,1049.1 L885.6,1050.0 L886.8,1050.8 L888.2,1051.7 L889.5,1052.6 L890.7,1053.4 L891.9,1054.2 L893.1,1054.9 L894.3,1055.7 L895.6,1056.5 L897.0,1057.3" fill="none" stroke="#000" stroke-width="2.41" stroke-linejoin="round" stroke-linecap="round"/>
<path d="M499.4,1120.5 L500.7,1119.4 L502.1,1118.3 L503.3,1117.3 L504.6,1116.2 L505.9,1115.1 L507.1,1114.0 L508.4,1112.9 L509.6,1111.7 L510.8,1110.6 L511.9,1109.5 L513.1,1108.3 L514.3,1107.0 L515.4,1105.8 L516.5,1104.5 L517.5,1103.3 L518.6,1102.0 L519.7,1100.7 L520.7,1099.5 L521.7,1098.3 L522.8,1097.0 L523.8,1095.8 L524.8,1094.5 L525.8,1093.3 M550.1,1053.1 L551.2,1051.7 L552.2,1050.5 L553.5,1049.0 L554.8,1047.6 M568.2,1047.7 L569.4,1048.8 L570.5,1050.1 L571.6,1051.4 M586.6,1079.7 L587.5,1080.9 L588.5,1082.0 L589.6,1083.1 L590.7,1084.2 L591.9,1085.1 L593.0,1086.0 M726.2,1111.3 L727.5,1110.3 L728.8,1109.1 L729.8,1108.0 L730.9,1106.7 L732.0,1105.4 M740.3,1093.2 L741.6,1091.6 L742.7,1090.6 L743.8,1089.3 M777.5,1034.0 L778.5,1032.8 L779.5,1031.6 L780.6,1030.4 L781.8,1029.2 L783.0,1028.0 L784.2,1026.8 L785.4,1025.7 L786.6,1024.6 L788.1,1023.1 L789.5,1021.7 L791.0,1020.3" fill="none" stroke="#000" stroke-width="2.17" stroke-linejoin="round" stroke-linecap="round"/>
<path d="M128.5,1352.0 L129.4,1352.0 L130.5,1352.0 L131.8,1352.0 L133.2,1352.0 L134.8,1352.0 L136.5,1351.9 L138.2,1351.9 L140.0,1351.9 L141.8,1351.9 L143.6,1351.9 L145.3,1351.8 L147.0,1351.8 L148.5,1351.8 L149.9,1351.7 L151.4,1351.7 L152.9,1351.6 L154.4,1351.6 L155.8,1351.5 L157.3,1351.5 L158.9,1351.4 L160.4,1351.3 L162.0,1351.2 L163.6,1351.2 L165.3,1351.1 L167.0,1351.0 L168.4,1350.9 L169.9,1350.8 L171.3,1350.8 L172.8,1350.7 L174.3,1350.6 L175.8,1350.5 L177.3,1350.4 L178.9,1350.3 L180.5,1350.2 L182.1,1350.1 L183.7,1350.0 L185.3,1349.9 L187.0,1349.8 L188.6,1349.7 L190.3,1349.6 L192.0,1349.5 L193.5,1349.4 L195.0,1349.4 L196.5,1349.3 L198.0,1349.2 L199.6,1349.2 L201.2,1349.1 L202.8,1349.1 L204.5,1349.0 L206.1,1348.9 L207.7,1348.9 L209.3,1348.8 L211.0,1348.8 L212.6,1348.7 L214.1,1348.7 L215.7,1348.6 L217.2,1348.5 L218.7,1348.5 L220.2,1348.4 L221.6,1348.3 L223.3,1348.2 L225.1,1348.1 L226.7,1348.0 L228.4,1347.8 L230.0,1347.7 L231.6,1347.6 L233.2,1347.5 L234.7,1347.3 L236.2,1347.2 L237.7,1347.1 L239.2,1347.0 L240.7,1346.8 L242.1,1346.7 L243.6,1346.6 L245.0,1346.5 L246.6,1346.4 L248.2,1346.3 L249.8,1346.2 L251.4,1346.1 L252.9,1346.0 L254.4,1346.0 L255.9,1345.9 L257.3,1345.8 L258.8,1345.7 L260.2,1345.6 L261.6,1345.5 L263.1,1345.4 L264.5,1345.3 L266.2,1345.1 L267.7,1344.9 L269.3,1344.7 L270.8,1344.5 L272.4,1344.3 L273.9,1344.1 L275.4,1343.8 L277.0,1343.6 L278.6,1343.4 L280.3,1343.2 L282.0,1343.0 L283.4,1342.9 L284.9,1342.7 L286.5,1342.6 L288.0,1342.5 L289.6,1342.4 L291.2,1342.3 L292.9,1342.2 L294.5,1342.1 L296.1,1342.0 L297.7,1341.9 L299.2,1341.8 L300.8,1341.6 L302.2,1341.5 L303.6,1341.3 L305.3,1341.0 L307.0,1340.7 L308.6,1340.4 L310.1,1340.1 L311.7,1339.7 L313.2,1339.3 L314.6,1338.9 L316.0,1338.6 L317.4,1338.2 L318.7,1337.8 L320.0,1337.5 L321.7,1337.0 L323.2,1336.6 L324.6,1336.1 L326.0,1335.7 L327.4,1335.3 L328.7,1334.8 L330.2,1334.4 L331.7,1334.0 L333.1,1333.7 L334.6,1333.3 L336.1,1333.0 L337.7,1332.7 L339.2,1332.4 L340.8,1332.1 L342.3,1331.7 L343.9,1331.4 L345.4,1331.1 L346.9,1330.8 L348.3,1330.5 L349.8,1330.1 L351.2,1329.8 L352.6,1329.5 L354.1,1329.2 L355.7,1328.8 L357.3,1328.5 L359.1,1328.1 L360.4,1327.8 L361.8,1327.5 L363.2,1327.2 L364.7,1326.9 L366.2,1326.6 L367.7,1326.3 L369.3,1326.0 L370.8,1325.7 L372.4,1325.4 L374.0,1325.1 L375.5,1324.8 L377.1,1324.5 L378.6,1324.2 L380.1,1323.9 L381.6,1323.7 L383.1,1323.5 L384.6,1323.2 L386.1,1323.0 L387.6,1322.8 L389.1,1322.6 L390.6,1322.4 L392.1,1322.2 L393.6,1322.0 L395.1,1321.8 L396.6,1321.5 L398.1,1321.3 L399.6,1321.1 L401.1,1320.8 L402.6,1320.6 L404.1,1320.4 L405.6,1320.1 L407.1,1319.9 L408.7,1319.6 L410.2,1319.4 L411.7,1319.1 L413.2,1318.9 L414.7,1318.6 L416.2,1318.3 L417.7,1318.0 L419.2,1317.7 L420.7,1317.4 L422.2,1317.1 L423.7,1316.7 L425.2,1316.4 L426.7,1316.1 L428.2,1315.7 L429.7,1315.4 L431.2,1315.0 L432.7,1314.7 L434.2,1314.3 L435.7,1313.9 L437.2,1313.5 L438.7,1313.1 L440.2,1312.7 L441.8,1312.2 L443.3,1311.8 L444.9,1311.3 L446.4,1310.9 L448.0,1310.4 L449.5,1309.9 L451.0,1309.5 L452.5,1309.0 L453.9,1308.5 L455.3,1308.1 L456.7,1307.6 L458.3,1307.1 L459.8,1306.6 L461.3,1306.0 L462.7,1305.5 L464.2,1305.0 L465.6,1304.5 L466.9,1304.0 L468.3,1303.5 M521.8,1254.2 L522.4,1252.6 L523.0,1251.0 L523.5,1249.6 L524.1,1248.2 L524.6,1246.7 L525.1,1245.3 L525.6,1243.9 L526.0,1242.4 L526.5,1241.0 L527.0,1239.3 L527.5,1237.7 L528.0,1236.0 L528.5,1234.4 L529.0,1232.7 L529.5,1231.0 L529.9,1229.5 L530.4,1228.0 L530.8,1226.5 L531.2,1225.0 L531.6,1223.5 L532.1,1222.0 L532.5,1220.5 L532.9,1219.0 L533.3,1217.5 L533.8,1216.1 L534.2,1214.6 L534.6,1213.1 L535.0,1211.6 L535.5,1210.0 L535.9,1208.6 L536.3,1207.2 L536.8,1205.8 L537.2,1204.4 L537.7,1202.9 L538.1,1201.5 L538.6,1200.0 L539.0,1198.5 L539.4,1197.0 L539.9,1195.5 L540.3,1194.0 L540.7,1192.4 L541.2,1190.9 L541.6,1189.3 L542.0,1187.7 L542.4,1186.0 L542.8,1184.5 L543.1,1183.0 L543.4,1181.5 L543.8,1180.0 L544.1,1178.5 L544.5,1176.9 L544.8,1175.2 L545.1,1173.4 L545.5,1171.5 L545.8,1170.1 L546.0,1168.7 L546.3,1167.3 L546.5,1165.8 L546.8,1164.3 L547.1,1162.7 L547.3,1161.1 L547.6,1159.5 L547.9,1157.9 L548.1,1156.2 L548.4,1154.5 L548.6,1152.8 L548.9,1151.0 L549.1,1149.6 L549.3,1148.2 L549.5,1146.8 L549.7,1145.3 L549.9,1143.8 L550.1,1142.3 L550.3,1140.8 L550.5,1139.3 L550.7,1137.7 L550.9,1136.2 L551.0,1134.6 L551.2,1133.1 L551.4,1131.5 L551.6,1130.0 L551.8,1128.5 L552.0,1127.0 L552.2,1125.5 L552.4,1123.9 L552.6,1122.3 L552.8,1120.7 L553.0,1119.1 L553.2,1117.5 L553.4,1115.9 L553.6,1114.3 L553.8,1112.7 L554.0,1111.1 L554.2,1109.6 L554.4,1108.1 L554.6,1106.6 L554.8,1105.2 L555.0,1103.8 L555.2,1102.5 L555.4,1101.3 L555.8,1099.2 L556.1,1097.3 L556.5,1095.4 L556.8,1093.7 L557.2,1092.1 L557.5,1090.6 L557.9,1089.3 L558.3,1088.1 L558.6,1087.0 M560.6,1083.4 L561.6,1083.4 M563.7,1086.9 L564.4,1088.8 L565.1,1090.9 L565.5,1092.1 L565.9,1093.4 L566.2,1094.7 L566.6,1096.1 L567.0,1097.6 L567.3,1099.2 L567.7,1100.9 L568.1,1102.6 L568.4,1104.5 L568.6,1105.8 L568.9,1107.2 L569.1,1108.7 L569.3,1110.2 L569.5,1111.7 L569.7,1113.3 L569.9,1114.9 L570.1,1116.5 L570.3,1118.2 L570.5,1119.9 L570.7,1121.7 L571.0,1123.4 L571.2,1125.2 L571.4,1126.6 L571.6,1128.0 L571.8,1129.5 L572.0,1131.1 L572.2,1132.6 L572.4,1134.2 L572.6,1135.8 L572.9,1137.4 L573.1,1139.0 L573.3,1140.6 L573.5,1142.2 L573.7,1143.8 L574.0,1145.3 L574.2,1146.8 L574.4,1148.3 L574.6,1149.7 L574.8,1151.1 L575.1,1152.8 L575.3,1154.5 L575.6,1156.0 L575.8,1157.6 L576.1,1159.1 L576.4,1160.5 L576.6,1162.0 L576.9,1163.4 L577.1,1164.9 L577.4,1166.3 L577.6,1167.8 L577.9,1169.3 L578.1,1170.8 L578.3,1172.3 L578.6,1173.8 L578.8,1175.3 L579.0,1176.8 L579.2,1178.3 L579.4,1179.9 L579.6,1181.4 L579.9,1182.9 L580.1,1184.4 L580.3,1185.9 L580.5,1187.4 L580.7,1188.8 L581.0,1190.2 L581.2,1191.6 L581.5,1193.3 L581.8,1194.9 L582.1,1196.6 L582.4,1198.2 L582.7,1199.7 L583.1,1201.2 L583.4,1202.7 L583.7,1204.2 L584.0,1205.6 L584.3,1206.9 L584.6,1208.2 L585.1,1210.1 L585.5,1211.9 L586.0,1213.5 L586.4,1215.1 L586.9,1216.6 L587.3,1218.1 L587.8,1219.6 L588.3,1221.1 L588.8,1222.6 L589.3,1224.1 L589.9,1225.6 L590.4,1227.1 L590.9,1228.5 L591.4,1230.0 L591.9,1231.5 L592.3,1233.1 L592.8,1234.6 L593.2,1236.2 L593.6,1237.7 L594.1,1239.0 L594.5,1240.3 M598.6,1249.1 L599.2,1250.5 L599.8,1252.0 M617.6,1270.6 L619.0,1271.1 L620.5,1271.6 L622.1,1271.9 L623.8,1272.3 L625.5,1272.5 L627.2,1272.7 L628.9,1272.9 L630.6,1273.0 L632.2,1273.1 L633.8,1273.2 L635.3,1273.2 L636.7,1273.3 L638.7,1273.4 L640.6,1273.4 L642.4,1273.3 L644.2,1273.2 L645.8,1273.0 L647.3,1272.8 L648.7,1272.6 L650.0,1272.3 L652.1,1271.6 M704.7,1197.8 L706.4,1197.3 L708.3,1197.1 L710.2,1197.1 L712.0,1197.1 L713.8,1197.2 L715.6,1197.8 M722.3,1206.5 L722.8,1208.0 L723.4,1209.6 L724.0,1211.2 L724.5,1212.8 L724.9,1214.2 L725.4,1215.6 L725.8,1217.0 L726.2,1218.5 L726.6,1220.0 L726.9,1221.6 L727.3,1223.3 L727.7,1225.1 L728.0,1226.4 L728.2,1227.7 L728.5,1229.2 L728.7,1230.6 L729.0,1232.1 L729.2,1233.7 L729.5,1235.2 L729.7,1236.8 L730.0,1238.3 L730.2,1239.9 L730.5,1241.4 L730.7,1242.9 L730.9,1244.4 L731.2,1245.9 L731.4,1247.4 L731.6,1248.9 L731.8,1250.4 L732.0,1251.9 L732.2,1253.4 L732.5,1254.9 L732.7,1256.3 L732.9,1257.8 L733.2,1259.3 L733.4,1260.7 L733.7,1262.3 L734.0,1263.8 L734.3,1265.3 L734.6,1266.9 L734.9,1268.4 L735.2,1269.9 L735.5,1271.4 L735.9,1272.9 L736.2,1274.3 L736.5,1275.7 L736.8,1277.1 L737.2,1278.7 L737.5,1280.3 L737.9,1281.9 L738.3,1283.4 L738.6,1284.9 L739.0,1286.4 L739.4,1287.8 L739.8,1289.3 L740.2,1290.7 L740.7,1292.3 L741.2,1294.0 L741.7,1295.7 L742.2,1297.3 L742.8,1298.9 L743.3,1300.4 L743.8,1301.8 L744.3,1303.1 L745.0,1305.0 M750.5,1312.9 L751.9,1313.3 L753.3,1313.2 M758.7,1306.3 L759.4,1304.4 L759.8,1303.2 L760.3,1301.7 L760.7,1300.2 L761.2,1298.5 L761.6,1296.9 L762.1,1295.2 L762.6,1293.6 L763.0,1292.1 L763.5,1290.7 L764.2,1288.9 M767.6,1281.2 L768.1,1279.8 L768.6,1278.2 L769.1,1276.6 L769.6,1274.9 L770.2,1273.2 L770.7,1271.7 L771.2,1270.2 L771.7,1268.9 M789.0,1252.1 L791.3,1251.5 L792.6,1251.3 L794.0,1251.1 L795.6,1251.0 L797.2,1250.9 L799.0,1250.8 L800.7,1250.7 L802.5,1250.7 L804.2,1250.7 L805.9,1250.8 L807.5,1250.9 L809.2,1251.0 L810.9,1251.2 L812.6,1251.4 L814.2,1251.7 L815.9,1251.9 L817.5,1252.2 L819.1,1252.5 L820.6,1252.8 L822.3,1253.1 L823.9,1253.5 L825.5,1253.9 L827.0,1254.3 L828.5,1254.7 L830.0,1255.2 L831.4,1255.7 L832.8,1256.2 M869.5,1273.3 L871.0,1273.9 L872.6,1274.5 L874.1,1275.1 L875.6,1275.7 L877.1,1276.2 L878.6,1276.7 L880.1,1277.2 L881.6,1277.7 L883.1,1278.2 L884.6,1278.6 L886.1,1279.0 L887.6,1279.3 L889.1,1279.7 L890.6,1280.0 L892.1,1280.3 L893.6,1280.7 L895.1,1281.0 L896.6,1281.4 L898.1,1281.7 L899.6,1282.1 L901.1,1282.5 L902.6,1282.9 L904.2,1283.4 L905.7,1283.8 L907.3,1284.3 L908.9,1284.8 L910.4,1285.2 L912.0,1285.7 L913.5,1286.2 L915.0,1286.7 L916.5,1287.2 L918.0,1287.6 L919.4,1288.1 L920.7,1288.6 L922.4,1289.2 M932.3,1293.6 L933.8,1294.2 L935.3,1294.7 L936.8,1295.1 L938.2,1295.5 L939.7,1295.9 L941.2,1296.2 L942.8,1296.5 L944.3,1296.9 L945.9,1297.2 L947.5,1297.5 L949.1,1297.8 L950.7,1298.1 L952.4,1298.4 L953.9,1298.7 L955.5,1299.0 L957.1,1299.3 L958.9,1299.6 L960.6,1300.0 L962.4,1300.3 L964.1,1300.6 L965.7,1300.9 L967.3,1301.2 L968.7,1301.4 L969.9,1301.6 L971.0,1301.8 L971.9,1302.0" fill="none" stroke="#000" stroke-width="2.90" stroke-linejoin="round" stroke-linecap="round"/>
<path d="M468.3,1303.5 L469.6,1302.9 L471.0,1302.4 L472.3,1301.8 L473.8,1301.2 L475.2,1300.5 L476.6,1299.8 L478.0,1299.1 L479.4,1298.4 L480.8,1297.7 L482.1,1297.0 L483.4,1296.3 L484.7,1295.6 L486.0,1294.9 L487.4,1294.1 L488.9,1293.4 L490.3,1292.6 L491.7,1291.8 L493.0,1291.0 L494.3,1290.3 M515.3,1267.4 L516.1,1266.1 L516.9,1264.7 L517.6,1263.3 L518.3,1261.9 L519.0,1260.5 L519.7,1258.9 L520.4,1257.4 L521.1,1255.8 L521.8,1254.2 M558.6,1087.0 L559.6,1084.6 M562.3,1084.1 L563.0,1085.3 L563.7,1086.9 M594.5,1240.3 L595.2,1242.0 L595.9,1243.3 L596.6,1244.6 L597.6,1246.6 L598.1,1247.8 L598.6,1249.1 M599.8,1252.0 L600.4,1253.6 L601.1,1255.2 L601.9,1256.7 M614.7,1269.1 L616.1,1269.9 L617.6,1270.6 M652.1,1271.6 L653.6,1270.8 M656.2,1268.9 L657.8,1268.0 M664.2,1262.1 L664.9,1260.7 L665.7,1259.3 M686.5,1226.8 L687.3,1225.4 L688.2,1223.9 L689.0,1222.4 L689.7,1221.0 L690.4,1219.6 L691.1,1218.2 L691.8,1216.8 L692.5,1215.3 L693.1,1213.9 L693.8,1212.6 L694.5,1211.3 L695.1,1210.1 L696.1,1208.4 M720.4,1202.6 L721.0,1203.8 L721.6,1205.1 L722.3,1206.5 M745.0,1305.0 L745.7,1306.7 L746.4,1308.2 L747.1,1309.5 M753.3,1313.2 L754.7,1312.5 M756.7,1310.3 L757.4,1309.2 L758.0,1307.9 L758.7,1306.3 M764.2,1288.9 L764.9,1287.3 L765.5,1285.9 L766.2,1284.4 L766.9,1282.9 L767.6,1281.2 M771.7,1268.9 L772.5,1267.1 L773.3,1265.6 M787.4,1252.8 L789.0,1252.1 M832.8,1256.2 L834.2,1256.9 L835.5,1257.6 M839.1,1259.9 L840.6,1260.8 L842.5,1261.8 L843.6,1262.3 L844.8,1262.9 L846.0,1263.4 L847.4,1264.0 L848.7,1264.7 L850.2,1265.3 L851.6,1265.9 L853.1,1266.6 L854.6,1267.2 L856.1,1267.9 L857.6,1268.5 L859.1,1269.1 L860.6,1269.7 L862.0,1270.3 L863.5,1270.9 L865.0,1271.5 L866.5,1272.1 L868.0,1272.7 L869.5,1273.3 M922.4,1289.2 L923.9,1289.9 L925.4,1290.5 L926.8,1291.2 L928.2,1291.8 L929.5,1292.4 L930.9,1293.0 L932.3,1293.6" fill="none" stroke="#000" stroke-width="2.61" stroke-linejoin="round" stroke-linecap="round"/>
<path d="M494.3,1290.3 L495.6,1289.5 L496.7,1288.8 L497.7,1288.1 M511.7,1272.7 L512.7,1271.4 L513.7,1270.0 L514.5,1268.7 L515.3,1267.4 M601.9,1256.7 L602.9,1258.2 L603.9,1259.6 M610.6,1266.3 L611.9,1267.3 L613.3,1268.3 L614.7,1269.1 M653.6,1270.8 L654.8,1269.9 L656.2,1268.9 M657.8,1268.0 L659.4,1267.0 L661.0,1265.9 M663.3,1263.5 L664.2,1262.1 M665.7,1259.3 L666.5,1258.0 L667.2,1256.8 L668.1,1255.4 L669.1,1253.8 L669.8,1252.7 L670.6,1251.6 L671.5,1250.3 L672.5,1249.0 L673.4,1247.7 L674.4,1246.3 L675.3,1244.9 L676.1,1243.6 L677.0,1242.3 L677.8,1241.0 L678.7,1239.6 L679.5,1238.2 L680.4,1236.8 L681.2,1235.4 L682.1,1234.0 L683.0,1232.6 L683.8,1231.2 L684.7,1229.7 L685.6,1228.3 L686.5,1226.8 M696.1,1208.4 L697.0,1206.9 L698.0,1205.5 L698.9,1204.2 L699.8,1203.0 L700.6,1201.9 M703.3,1198.8 L704.7,1197.8 M715.6,1197.8 L716.9,1198.6 M719.3,1200.9 L720.4,1202.6 M747.1,1309.5 L747.8,1310.6 M749.1,1312.0 L750.5,1312.9 M756.0,1311.3 L756.7,1310.3 M773.3,1265.6 L774.2,1264.3 L775.0,1263.1 L775.8,1262.0 M781.4,1256.7 L782.9,1255.6 L784.7,1254.5 L786.0,1253.7 L787.4,1252.8 M835.5,1257.6 L836.6,1258.3 L837.8,1259.1 L839.1,1259.9" fill="none" stroke="#000" stroke-width="2.41" stroke-linejoin="round" stroke-linecap="round"/>
<path d="M497.7,1288.1 L499.2,1286.9 L500.3,1285.7 L501.2,1284.6 L502.1,1283.6 L503.0,1282.5 L504.2,1281.3 L505.4,1280.1 L506.5,1278.9 L507.8,1277.5 L508.7,1276.4 L509.7,1275.3 L510.7,1274.0 L511.7,1272.7 M559.6,1084.6 L560.6,1083.4 M561.6,1083.4 L562.3,1084.1 M603.9,1259.6 L604.8,1260.7 L605.9,1261.8 L607.0,1263.0 L608.1,1264.1 L609.3,1265.2 L610.6,1266.3 M661.0,1265.9 L662.3,1264.8 L663.3,1263.5 M700.6,1201.9 L702.0,1200.1 L703.3,1198.8 M716.9,1198.6 L718.1,1199.6 L719.3,1200.9 M747.8,1310.6 L749.1,1312.0 M754.7,1312.5 L756.0,1311.3 M775.8,1262.0 L777.1,1260.4 L778.5,1259.1 L779.9,1257.9 L781.4,1256.7" fill="none" stroke="#000" stroke-width="2.17" stroke-linejoin="round" stroke-linecap="round"/>
<defs><text id="n60" transform="translate(150.07,235.70) scale(0.8300,1.1038)" font-family='"Liberation Serif", serif' font-weight="normal" font-size="40" letter-spacing="2">60</text>
<text id="n130" transform="translate(210.27,125.50) scale(0.8783,1.0962)" font-family='"Liberation Serif", serif' font-weight="normal" font-size="40" letter-spacing="2">130</text>
<text id="n70" transform="translate(188.46,388.30) scale(0.9205,1.1115)" font-family='"Liberation Serif", serif' font-weight="normal" font-size="40" letter-spacing="2">70</text>
<text id="n178" transform="translate(258.78,521.00) scale(0.8400,1.1115)" font-family='"Liberation Serif", serif' font-weight="normal" font-size="40" letter-spacing="2">178</text>
<text id="n455" transform="translate(498.40,612.00) scale(0.8460,1.1077)" font-family='"Liberation Serif", serif' font-weight="normal" font-size="40" letter-spacing="2">455</text>
<text id="n105" transform="translate(226.34,693.20) scale(0.8850,1.1115)" font-family='"Liberation Serif", serif' font-weight="normal" font-size="40" letter-spacing="2">105</text>
<text id="n498" transform="translate(528.20,1017.10) scale(0.8857,1.1115)" font-family='"Liberation Serif", serif' font-weight="normal" font-size="40" letter-spacing="2">498</text>
<text id="n780" transform="translate(783.45,997.50) scale(0.8770,1.1115)" font-family='"Liberation Serif", serif' font-weight="normal" font-size="40" letter-spacing="2">780</text>
<text id="n671" transform="translate(680.47,1176.00) scale(0.8262,1.1154)" font-family='"Liberation Serif", serif' font-weight="normal" font-size="40" letter-spacing="2">671</text>
<text id="n770" transform="translate(786.22,1233.70) scale(0.8885,1.0808)" font-family='"Liberation Serif", serif' font-weight="normal" font-size="40" letter-spacing="2">770</text>
<text id="prmcl" transform="translate(639.20,338.80) scale(1.0974,1.2000)" font-family='"Liberation Serif", serif' font-weight="bold" font-size="40" letter-spacing="2">PRMCL</text>
<text id="prmnh" transform="translate(649.20,612.00) scale(1.1050,1.2385)" font-family='"Liberation Serif", serif' font-weight="bold" font-size="40" letter-spacing="2">PRMNH</text>
<text id="pr" transform="translate(647.90,874.50) scale(1.0946,1.2385)" font-family='"Liberation Serif", serif' font-weight="bold" font-size="40" letter-spacing="2">PR</text>
<text id="mocl" transform="translate(128.20,1101.20) scale(0.9350,1.0958)" font-family='"Liberation Serif", serif' font-weight="normal" font-size="40" stroke-width="0.9" letter-spacing="1.5">MoOx/C (MoCl<tspan dy="0.42em">5</tspan><tspan dy="-0.42em">)</tspan></text>
<text id="moox2" transform="translate(112.90,1231.83) scale(0.9358,0.9714)" font-family='"Liberation Serif", serif' font-weight="normal" font-size="40" stroke-width="0.9" letter-spacing="1.5">MoOx/C</text>
<text id="nh4" transform="translate(113.44,1292.20) scale(0.9564,1.0767)" font-family='"Liberation Serif", serif' font-weight="normal" font-size="40" stroke-width="0.8" letter-spacing="1">((NH<tspan dy="0.467em">4</tspan><tspan dy="-0.467em">)</tspan><tspan dy="0.467em">6</tspan><tspan dy="-0.467em">Mo</tspan><tspan dy="0.467em">7</tspan><tspan dy="-0.467em">O</tspan><tspan dy="0.467em">24</tspan><tspan dy="-0.467em">)</tspan></text>
<text id="t0" transform="translate(111.27,1432.00) scale(0.8300,1.1500)" font-family='"Liberation Sans", sans-serif' font-weight="normal" font-size="40" letter-spacing="5">0</text>
<text id="t150" transform="translate(219.83,1432.00) scale(0.8562,1.1500)" font-family='"Liberation Sans", sans-serif' font-weight="normal" font-size="40" letter-spacing="5">150</text>
<text id="t300" transform="translate(351.76,1432.00) scale(0.8413,1.1500)" font-family='"Liberation Sans", sans-serif' font-weight="normal" font-size="40" letter-spacing="5">300</text>
<text id="t450" transform="translate(482.55,1432.00) scale(0.8480,1.1500)" font-family='"Liberation Sans", sans-serif' font-weight="normal" font-size="40" letter-spacing="5">450</text>
<text id="t600" transform="translate(614.45,1432.00) scale(0.8757,1.1500)" font-family='"Liberation Sans", sans-serif' font-weight="normal" font-size="40" letter-spacing="5">600</text>
<text id="t750" transform="translate(748.09,1432.00) scale(0.8527,1.1500)" font-family='"Liberation Sans", sans-serif' font-weight="normal" font-size="40" letter-spacing="5">750</text>
<text id="t900" transform="translate(880.00,1432.00) scale(0.8514,1.1500)" font-family='"Liberation Sans", sans-serif' font-weight="normal" font-size="40" letter-spacing="5">900</text>
<text id="xt" transform="translate(378.80,1512.80) scale(1.0782,1.2141)" font-family='"Liberation Serif", serif' font-weight="bold" font-size="40" letter-spacing="1">Temperature (°C)</text>
<text id="yt" transform="translate(55.83,777.95) scale(1.0872,0.9545) rotate(-90)" font-family='"Liberation Serif", serif' font-weight="normal" font-size="40" stroke-width="1.1" letter-spacing="5">Intensity (u.a.)</text></defs>
<use href="#n60" x="-1.8" fill="#e0a050" stroke="none" opacity="0.6"/><use href="#n60" x="1.8" fill="#50a8f0" stroke="none" opacity="0.6"/><use href="#n60" fill="#0a0a20" stroke="none"/>
<use href="#n130" x="-1.8" fill="#e0a050" stroke="none" opacity="0.6"/><use href="#n130" x="1.8" fill="#50a8f0" stroke="none" opacity="0.6"/><use href="#n130" fill="#0a0a20" stroke="none"/>
<use href="#n70" x="-1.8" fill="#e0a050" stroke="none" opacity="0.6"/><use href="#n70" x="1.8" fill="#50a8f0" stroke="none" opacity="0.6"/><use href="#n70" fill="#0a0a20" stroke="none"/>
<use href="#n178" x="-1.8" fill="#e0a050" stroke="none" opacity="0.6"/><use href="#n178" x="1.8" fill="#50a8f0" stroke="none" opacity="0.6"/><use href="#n178" fill="#0a0a20" stroke="none"/>
<use href="#n455" x="-1.8" fill="#e0a050" stroke="none" opacity="0.6"/><use href="#n455" x="1.8" fill="#50a8f0" stroke="none" opacity="0.6"/><use href="#n455" fill="#0a0a20" stroke="none"/>
<use href="#n105" x="-1.8" fill="#e0a050" stroke="none" opacity="0.6"/><use href="#n105" x="1.8" fill="#50a8f0" stroke="none" opacity="0.6"/><use href="#n105" fill="#0a0a20" stroke="none"/>
<use href="#n498" x="-1.8" fill="#e0a050" stroke="none" opacity="0.6"/><use href="#n498" x="1.8" fill="#50a8f0" stroke="none" opacity="0.6"/><use href="#n498" fill="#0a0a20" stroke="none"/>
<use href="#n780" x="-1.8" fill="#e0a050" stroke="none" opacity="0.6"/><use href="#n780" x="1.8" fill="#50a8f0" stroke="none" opacity="0.6"/><use href="#n780" fill="#0a0a20" stroke="none"/>
<use href="#n671" x="-1.8" fill="#e0a050" stroke="none" opacity="0.6"/><use href="#n671" x="1.8" fill="#50a8f0" stroke="none" opacity="0.6"/><use href="#n671" fill="#0a0a20" stroke="none"/>
<use href="#n770" x="-1.8" fill="#e0a050" stroke="none" opacity="0.6"/><use href="#n770" x="1.8" fill="#50a8f0" stroke="none" opacity="0.6"/><use href="#n770" fill="#0a0a20" stroke="none"/>
<use href="#prmcl" x="-1.8" fill="#e0a050" stroke="none" opacity="0.6"/><use href="#prmcl" x="1.8" fill="#50a8f0" stroke="none" opacity="0.6"/><use href="#prmcl" fill="#0a0a20" stroke="#fff" stroke-width="0.3"/>
<use href="#prmnh" x="-1.8" fill="#e0a050" stroke="none" opacity="0.6"/><use href="#prmnh" x="1.8" fill="#50a8f0" stroke="none" opacity="0.6"/><use href="#prmnh" fill="#0a0a20" stroke="#fff" stroke-width="0.3"/>
<use href="#pr" x="-1.8" fill="#e0a050" stroke="none" opacity="0.6"/><use href="#pr" x="1.8" fill="#50a8f0" stroke="none" opacity="0.6"/><use href="#pr" fill="#0a0a20" stroke="#fff" stroke-width="0.3"/>
<use href="#mocl" x="-1.8" fill="#e0a050" stroke="#e0a050" opacity="0.6"/><use href="#mocl" x="1.8" fill="#50a8f0" stroke="#50a8f0" opacity="0.6"/><use href="#mocl" fill="#0a0a20" stroke="#0a0a20"/>
<use href="#moox2" x="-1.8" fill="#e0a050" stroke="#e0a050" opacity="0.6"/><use href="#moox2" x="1.8" fill="#50a8f0" stroke="#50a8f0" opacity="0.6"/><use href="#moox2" fill="#0a0a20" stroke="#0a0a20"/>
<use href="#nh4" x="-1.8" fill="#e0a050" stroke="#e0a050" opacity="0.6"/><use href="#nh4" x="1.8" fill="#50a8f0" stroke="#50a8f0" opacity="0.6"/><use href="#nh4" fill="#0a0a20" stroke="#0a0a20"/>
<use href="#t0" x="-1.8" fill="#e0a050" stroke="none" opacity="0.6"/><use href="#t0" x="1.8" fill="#50a8f0" stroke="none" opacity="0.6"/><use href="#t0" fill="#0a0a20" stroke="none"/>
<use href="#t150" x="-1.8" fill="#e0a050" stroke="none" opacity="0.6"/><use href="#t150" x="1.8" fill="#50a8f0" stroke="none" opacity="0.6"/><use href="#t150" fill="#0a0a20" stroke="none"/>
<use href="#t300" x="-1.8" fill="#e0a050" stroke="none" opacity="0.6"/><use href="#t300" x="1.8" fill="#50a8f0" stroke="none" opacity="0.6"/><use href="#t300" fill="#0a0a20" stroke="none"/>
<use href="#t450" x="-1.8" fill="#e0a050" stroke="none" opacity="0.6"/><use href="#t450" x="1.8" fill="#50a8f0" stroke="none" opacity="0.6"/><use href="#t450" fill="#0a0a20" stroke="none"/>
<use href="#t600" x="-1.8" fill="#e0a050" stroke="none" opacity="0.6"/><use href="#t600" x="1.8" fill="#50a8f0" stroke="none" opacity="0.6"/><use href="#t600" fill="#0a0a20" stroke="none"/>
<use href="#t750" x="-1.8" fill="#e0a050" stroke="none" opacity="0.6"/><use href="#t750" x="1.8" fill="#50a8f0" stroke="none" opacity="0.6"/><use href="#t750" fill="#0a0a20" stroke="none"/>
<use href="#t900" x="-1.8" fill="#e0a050" stroke="none" opacity="0.6"/><use href="#t900" x="1.8" fill="#50a8f0" stroke="none" opacity="0.6"/><use href="#t900" fill="#0a0a20" stroke="none"/>
<use href="#xt" x="-1.8" fill="#e0a050" stroke="none" opacity="0.6"/><use href="#xt" x="1.8" fill="#50a8f0" stroke="none" opacity="0.6"/><use href="#xt" fill="#0a0a20" stroke="#fff" stroke-width="0.25"/>
<use href="#yt" x="-1.8" fill="#e0a050" stroke="#e0a050" opacity="0.6"/><use href="#yt" x="1.8" fill="#50a8f0" stroke="#50a8f0" opacity="0.6"/><use href="#yt" fill="#0a0a20" stroke="#0a0a20"/>
</svg></body></html>
